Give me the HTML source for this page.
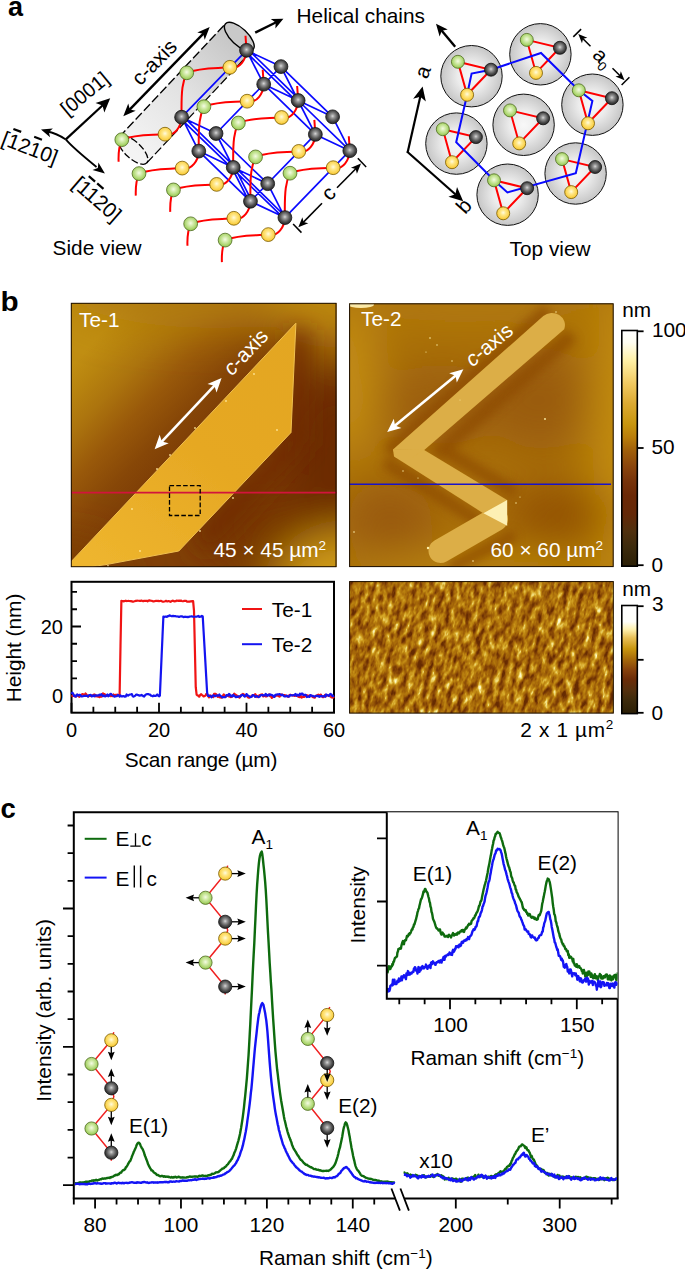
<!DOCTYPE html>
<html><head><meta charset="utf-8"><title>figure</title>
<style>
html,body{margin:0;padding:0;background:#fff;}
svg{display:block}
text{font-family:"Liberation Sans",sans-serif;}
</style></head><body>
<svg width="685" height="1270" viewBox="0 0 685 1270">
<rect width="685" height="1270" fill="#fff"/>

<defs>
<radialGradient id="gGray" cx="0.5" cy="0.45" r="0.55">
 <stop offset="0" stop-color="#d8d8d8"/><stop offset="0.25" stop-color="#9a9a9a"/><stop offset="0.7" stop-color="#4a4a4a"/><stop offset="1" stop-color="#262626"/>
</radialGradient>
<radialGradient id="gYel" cx="0.5" cy="0.45" r="0.55">
 <stop offset="0" stop-color="#fffbe0"/><stop offset="0.35" stop-color="#ffe88a"/><stop offset="0.8" stop-color="#fbd24a"/><stop offset="1" stop-color="#f2c12e"/>
</radialGradient>
<radialGradient id="gGrn" cx="0.5" cy="0.45" r="0.55">
 <stop offset="0" stop-color="#f4fbe4"/><stop offset="0.35" stop-color="#d3ebaa"/><stop offset="0.8" stop-color="#a8d46a"/><stop offset="1" stop-color="#90c24c"/>
</radialGradient>
<radialGradient id="gBig" cx="0.5" cy="0.5" r="0.5">
 <stop offset="0" stop-color="#f8f8f8"/><stop offset="0.45" stop-color="#ececec"/><stop offset="1" stop-color="#c6c6c6"/>
</radialGradient>
</defs>

<text x="8" y="15.5" font-size="27" text-anchor="start" font-weight="bold">a</text>
<defs><linearGradient id="cylG" gradientUnits="userSpaceOnUse" x1="133" y1="150" x2="239.3" y2="36.6">
<stop offset="0" stop-color="#f4f4f4"/><stop offset="0.5" stop-color="#e2e2e2"/><stop offset="1" stop-color="#c4c4c4"/></linearGradient></defs>
<path d="M146.79,162.93 L253.09,49.53 A18.9,8.3 43.15 0 0 225.51,23.67 L119.21,137.07 A18.9,8.3 43.15 0 0 146.79,162.93 Z" fill="url(#cylG)"/>
<ellipse cx="0" cy="0" rx="18.9" ry="8.3" transform="translate(239.3,36.6) rotate(43.15)" fill="#c9c9c9" stroke="#000" stroke-width="1.4"/>
<ellipse cx="0" cy="0" rx="18.9" ry="8.3" transform="translate(133,150) rotate(43.15)" fill="none" stroke="#000" stroke-width="1.3" stroke-dasharray="7,2.5"/>
<line x1="146.79" y1="162.93" x2="253.09" y2="49.53" stroke="#000" stroke-width="1.3" stroke-dasharray="9,3"/>
<line x1="119.21" y1="137.07" x2="225.51" y2="23.67" stroke="#000" stroke-width="1.3" stroke-dasharray="9,3"/>
<path d="M181.6,117.2L216.05,133.5 M216.05,133.5L267.7,183.7 M267.7,183.7L284.9,217.6 M284.9,217.6L250.45,201.3 M250.45,201.3L198.8,151.1 M198.8,151.1L181.6,117.2 M216.05,133.5L233.25,167.4 M267.7,183.7L233.25,167.4 M198.8,151.1L233.25,167.4 M182.75,116.05L234.3,166.35 M180.45,118.35L232.2,168.45 M246.5,50.3L280.95,66.6 M280.95,66.6L332.6,116.8 M332.6,116.8L349.8,150.7 M349.8,150.7L315.35,134.4 M315.35,134.4L263.7,84.2 M263.7,84.2L246.5,50.3 M280.95,66.6L298.15,100.5 M332.6,116.8L298.15,100.5 M349.8,150.7L298.15,100.5 M315.35,134.4L298.15,100.5 M263.7,84.2L298.15,100.5 M247.65,49.15L299.2,99.45 M245.35,51.45L297.1,101.55 M234.25,166.4L285.75,216.75 M232.25,168.4L284.05,218.45 M234.55,166.9L251.65,200.85 M231.95,167.9L249.25,201.75 M181.6,117.2L246.5,50.3 M216.05,133.5L280.95,66.6 M250.45,201.3L315.35,134.4 M284.9,217.6L349.8,150.7" stroke="#0a0aff" stroke-width="1.7" fill="none" stroke-linecap="round"/>
<path d="M181.6,117.2 C181.1,126.2 175,136.7 165,134.2 M165,134.2 C149,135.4 135.8,134.2 121.8,139.7 M121.8,139.7 C118.3,147.7 118.3,153.7 118.6,161.7 M246.5,50.3 C246,59.3 239.9,69.8 229.9,67.3 M229.9,67.3 C213.9,68.5 200.7,67.3 186.7,72.8 M186.7,72.8 C182.7,81.8 181.1,88.8 181.6,117.2 M246.5,50.3 L245.5,35.8 M198.8,151.1 C198.3,160.1 192.2,170.6 182.2,168.1 M182.2,168.1 C166.2,169.3 153,168.1 139,173.6 M139,173.6 C135.5,181.6 135.5,187.6 135.8,195.6 M263.7,84.2 C263.2,93.2 257.1,103.7 247.1,101.2 M247.1,101.2 C231.1,102.4 217.9,101.2 203.9,106.7 M203.9,106.7 C199.9,115.7 198.3,122.7 198.8,151.1 M263.7,84.2 L262.7,69.7 M233.25,167.4 C232.75,176.4 226.65,186.9 216.65,184.4 M216.65,184.4 C200.65,185.6 187.45,184.4 173.45,189.9 M173.45,189.9 C169.95,197.9 169.95,203.9 170.25,211.9 M298.15,100.5 C297.65,109.5 291.55,120 281.55,117.5 M281.55,117.5 C265.55,118.7 252.35,117.5 238.35,123 M238.35,123 C234.35,132 232.75,139 233.25,167.4 M298.15,100.5 L297.15,86 M250.45,201.3 C249.95,210.3 243.85,220.8 233.85,218.3 M233.85,218.3 C217.85,219.5 204.65,218.3 190.65,223.8 M190.65,223.8 C187.15,231.8 187.15,237.8 187.45,245.8 M315.35,134.4 C314.85,143.4 308.75,153.9 298.75,151.4 M298.75,151.4 C282.75,152.6 269.55,151.4 255.55,156.9 M255.55,156.9 C251.55,165.9 249.95,172.9 250.45,201.3 M315.35,134.4 L314.35,119.9 M284.9,217.6 C284.4,226.6 278.3,237.1 268.3,234.6 M268.3,234.6 C252.3,235.8 239.1,234.6 225.1,240.1 M225.1,240.1 C221.6,248.1 221.6,254.1 221.9,262.1 M349.8,150.7 C349.3,159.7 343.2,170.2 333.2,167.7 M333.2,167.7 C317.2,168.9 304,167.7 290,173.2 M290,173.2 C286,182.2 284.4,189.2 284.9,217.6 M349.8,150.7 L348.8,136.2" stroke="#ff0000" stroke-width="2" fill="none"/>
<circle cx="121.8" cy="139.7" r="6.9" fill="url(#gGrn)" stroke="#4f6b22" stroke-width="0.8"/>
<circle cx="165" cy="134.2" r="6.9" fill="url(#gYel)" stroke="#7a5c00" stroke-width="0.8"/>
<circle cx="186.7" cy="72.8" r="6.9" fill="url(#gGrn)" stroke="#4f6b22" stroke-width="0.8"/>
<circle cx="229.9" cy="67.3" r="6.9" fill="url(#gYel)" stroke="#7a5c00" stroke-width="0.8"/>
<circle cx="139" cy="173.6" r="6.9" fill="url(#gGrn)" stroke="#4f6b22" stroke-width="0.8"/>
<circle cx="182.2" cy="168.1" r="6.9" fill="url(#gYel)" stroke="#7a5c00" stroke-width="0.8"/>
<circle cx="203.9" cy="106.7" r="6.9" fill="url(#gGrn)" stroke="#4f6b22" stroke-width="0.8"/>
<circle cx="247.1" cy="101.2" r="6.9" fill="url(#gYel)" stroke="#7a5c00" stroke-width="0.8"/>
<circle cx="173.45" cy="189.9" r="6.9" fill="url(#gGrn)" stroke="#4f6b22" stroke-width="0.8"/>
<circle cx="216.65" cy="184.4" r="6.9" fill="url(#gYel)" stroke="#7a5c00" stroke-width="0.8"/>
<circle cx="238.35" cy="123" r="6.9" fill="url(#gGrn)" stroke="#4f6b22" stroke-width="0.8"/>
<circle cx="281.55" cy="117.5" r="6.9" fill="url(#gYel)" stroke="#7a5c00" stroke-width="0.8"/>
<circle cx="190.65" cy="223.8" r="6.9" fill="url(#gGrn)" stroke="#4f6b22" stroke-width="0.8"/>
<circle cx="233.85" cy="218.3" r="6.9" fill="url(#gYel)" stroke="#7a5c00" stroke-width="0.8"/>
<circle cx="255.55" cy="156.9" r="6.9" fill="url(#gGrn)" stroke="#4f6b22" stroke-width="0.8"/>
<circle cx="298.75" cy="151.4" r="6.9" fill="url(#gYel)" stroke="#7a5c00" stroke-width="0.8"/>
<circle cx="225.1" cy="240.1" r="6.9" fill="url(#gGrn)" stroke="#4f6b22" stroke-width="0.8"/>
<circle cx="268.3" cy="234.6" r="6.9" fill="url(#gYel)" stroke="#7a5c00" stroke-width="0.8"/>
<circle cx="290" cy="173.2" r="6.9" fill="url(#gGrn)" stroke="#4f6b22" stroke-width="0.8"/>
<circle cx="333.2" cy="167.7" r="6.9" fill="url(#gYel)" stroke="#7a5c00" stroke-width="0.8"/>
<circle cx="181.6" cy="117.2" r="6.9" fill="url(#gGray)" stroke="#111" stroke-width="0.8"/>
<circle cx="246.5" cy="50.3" r="6.9" fill="url(#gGray)" stroke="#111" stroke-width="0.8"/>
<circle cx="216.05" cy="133.5" r="6.9" fill="url(#gGray)" stroke="#111" stroke-width="0.8"/>
<circle cx="280.95" cy="66.6" r="6.9" fill="url(#gGray)" stroke="#111" stroke-width="0.8"/>
<circle cx="198.8" cy="151.1" r="6.9" fill="url(#gGray)" stroke="#111" stroke-width="0.8"/>
<circle cx="263.7" cy="84.2" r="6.9" fill="url(#gGray)" stroke="#111" stroke-width="0.8"/>
<circle cx="233.25" cy="167.4" r="6.9" fill="url(#gGray)" stroke="#111" stroke-width="0.8"/>
<circle cx="298.15" cy="100.5" r="6.9" fill="url(#gGray)" stroke="#111" stroke-width="0.8"/>
<circle cx="267.7" cy="183.7" r="6.9" fill="url(#gGray)" stroke="#111" stroke-width="0.8"/>
<circle cx="332.6" cy="116.8" r="6.9" fill="url(#gGray)" stroke="#111" stroke-width="0.8"/>
<circle cx="250.45" cy="201.3" r="6.9" fill="url(#gGray)" stroke="#111" stroke-width="0.8"/>
<circle cx="315.35" cy="134.4" r="6.9" fill="url(#gGray)" stroke="#111" stroke-width="0.8"/>
<circle cx="284.9" cy="217.6" r="6.9" fill="url(#gGray)" stroke="#111" stroke-width="0.8"/>
<circle cx="349.8" cy="150.7" r="6.9" fill="url(#gGray)" stroke="#111" stroke-width="0.8"/>
<polygon points="123.3,116.2 128.27,103.61 129.83,109.47 135.73,110.85" fill="#000"/><line x1="129.39" y1="109.92" x2="203.61" y2="33.38" stroke="#000" stroke-width="2.4"/><polygon points="209.7,27.1 204.73,39.69 203.17,33.83 197.27,32.45" fill="#000"/>
<text x="0" y="0" font-size="20.8" text-anchor="middle" transform="translate(155.3,63.3) rotate(-45.5)" dy="5.5">c-axis</text>
<line x1="255.2" y1="32.6" x2="276.18" y2="22.26" stroke="#000" stroke-width="2.4"/><polygon points="283.4,18.7 275.38,28.45 275.66,22.51 270.79,19.12" fill="#000"/>
<text x="296.6" y="23.4" font-size="20.8" text-anchor="start" >Helical chains</text>
<line x1="65.8" y1="139.4" x2="103.01" y2="104.96" stroke="#000" stroke-width="2.2"/><polygon points="110.2,98.3 104.34,112.58 102.49,105.43 95.51,103.04" fill="#000"/>
<path d="M65.8,139.4 Q56,133 47,131.5" stroke="#000" stroke-width="1.8" fill="none"/>
<polygon points="41,129.4 52.88,128.42 48.85,131.95 50.04,137.17" fill="#000"/>
<path d="M65.8,139.4 Q72,147 96.5,167" stroke="#000" stroke-width="1.8" fill="none"/>
<polygon points="104.9,173.6 92.49,169.99 97.81,168.06 98.4,162.43" fill="#000"/>
<text x="0" y="0" font-size="20" text-anchor="middle" transform="translate(84.6,93.4) rotate(-39.5)" dy="7">[0001]</text>
<g transform="translate(28.8,147.6) rotate(20.8)"><text x="-27.8" y="7" font-size="20.8">[1210]</text><line x1="-21.04" y1="-12" x2="-12.72" y2="-12" stroke="#000" stroke-width="2.2"/><line x1="1.2" y1="-12" x2="9.52" y2="-12" stroke="#000" stroke-width="2.2"/></g>
<g transform="translate(96.8,199) rotate(41)"><text x="-27.8" y="7" font-size="20.8">[1120]</text><line x1="-21.04" y1="-12" x2="-12.72" y2="-12" stroke="#000" stroke-width="2.2"/><line x1="-9.92" y1="-12" x2="-1.6" y2="-12" stroke="#000" stroke-width="2.2"/></g>
<text x="52.6" y="255" font-size="20.8" text-anchor="start" >Side view</text>
<line x1="293.13" y1="223.98" x2="301.47" y2="232.62" stroke="#000" stroke-width="1.5"/>
<line x1="357.83" y1="158.28" x2="366.17" y2="166.92" stroke="#000" stroke-width="1.5"/>
<line x1="322" y1="203.3" x2="303.22" y2="222.32" stroke="#000" stroke-width="1.6"/><polygon points="298.3,227.3 302.34,217.23 303.57,221.96 308.31,223.14" fill="#000"/>
<line x1="337" y1="187.7" x2="356.06" y2="168.56" stroke="#000" stroke-width="1.6"/><polygon points="361,163.6 356.92,173.65 355.71,168.91 350.97,167.72" fill="#000"/>
<text x="0" y="0" font-size="20.8" text-anchor="middle" transform="translate(329.8,194.6) rotate(-45)" dy="5">c</text>
<circle cx="471.5" cy="76.2" r="30.7" fill="url(#gBig)" stroke="#111" stroke-width="1"/>
<circle cx="540.4" cy="54.3" r="30.7" fill="url(#gBig)" stroke="#111" stroke-width="1"/>
<circle cx="592.4" cy="104.7" r="30.7" fill="url(#gBig)" stroke="#111" stroke-width="1"/>
<circle cx="523.6" cy="124.8" r="30.7" fill="url(#gBig)" stroke="#111" stroke-width="1"/>
<circle cx="456.4" cy="143.6" r="30.7" fill="url(#gBig)" stroke="#111" stroke-width="1"/>
<circle cx="507.6" cy="194.7" r="30.7" fill="url(#gBig)" stroke="#111" stroke-width="1"/>
<circle cx="575.6" cy="173.5" r="30.7" fill="url(#gBig)" stroke="#111" stroke-width="1"/>
<path d="M457.9,61.8L491,69.7L467.1,94.8Z M526.8,39.9L559.9,47.8L536,72.9Z M578.8,90.3L611.9,98.2L588,123.3Z M510,110.4L543.1,118.3L519.2,143.4Z M442.8,129.2L475.9,137.1L452,162.2Z M494,180.3L527.1,188.2L503.2,213.3Z M562,159.1L595.1,167L571.2,192.1Z" stroke="#ff0000" stroke-width="2" fill="none"/>
<path d="M491,69.7 L471.6,73.6 L467.1,94.8 L456.2,142.3 L494,180.3 L507.4,192.5 L575.8,173.2 L592.4,101 L578.8,90.3 L541,53 Z" stroke="#0a0aff" stroke-width="2" fill="none" stroke-linejoin="miter"/>
<circle cx="457.9" cy="61.8" r="6.5" fill="url(#gGrn)" stroke="#4f6b22" stroke-width="0.8"/>
<circle cx="467.1" cy="94.8" r="6.5" fill="url(#gYel)" stroke="#7a5c00" stroke-width="0.8"/>
<circle cx="491" cy="69.7" r="6.5" fill="url(#gGray)" stroke="#111" stroke-width="0.8"/>
<circle cx="526.8" cy="39.9" r="6.5" fill="url(#gGrn)" stroke="#4f6b22" stroke-width="0.8"/>
<circle cx="536" cy="72.9" r="6.5" fill="url(#gYel)" stroke="#7a5c00" stroke-width="0.8"/>
<circle cx="559.9" cy="47.8" r="6.5" fill="url(#gGray)" stroke="#111" stroke-width="0.8"/>
<circle cx="578.8" cy="90.3" r="6.5" fill="url(#gGrn)" stroke="#4f6b22" stroke-width="0.8"/>
<circle cx="588" cy="123.3" r="6.5" fill="url(#gYel)" stroke="#7a5c00" stroke-width="0.8"/>
<circle cx="611.9" cy="98.2" r="6.5" fill="url(#gGray)" stroke="#111" stroke-width="0.8"/>
<circle cx="510" cy="110.4" r="6.5" fill="url(#gGrn)" stroke="#4f6b22" stroke-width="0.8"/>
<circle cx="519.2" cy="143.4" r="6.5" fill="url(#gYel)" stroke="#7a5c00" stroke-width="0.8"/>
<circle cx="543.1" cy="118.3" r="6.5" fill="url(#gGray)" stroke="#111" stroke-width="0.8"/>
<circle cx="442.8" cy="129.2" r="6.5" fill="url(#gGrn)" stroke="#4f6b22" stroke-width="0.8"/>
<circle cx="452" cy="162.2" r="6.5" fill="url(#gYel)" stroke="#7a5c00" stroke-width="0.8"/>
<circle cx="475.9" cy="137.1" r="6.5" fill="url(#gGray)" stroke="#111" stroke-width="0.8"/>
<circle cx="494" cy="180.3" r="6.5" fill="url(#gGrn)" stroke="#4f6b22" stroke-width="0.8"/>
<circle cx="503.2" cy="213.3" r="6.5" fill="url(#gYel)" stroke="#7a5c00" stroke-width="0.8"/>
<circle cx="527.1" cy="188.2" r="6.5" fill="url(#gGray)" stroke="#111" stroke-width="0.8"/>
<circle cx="562" cy="159.1" r="6.5" fill="url(#gGrn)" stroke="#4f6b22" stroke-width="0.8"/>
<circle cx="571.2" cy="192.1" r="6.5" fill="url(#gYel)" stroke="#7a5c00" stroke-width="0.8"/>
<circle cx="595.1" cy="167" r="6.5" fill="url(#gGray)" stroke="#111" stroke-width="0.8"/>
<line x1="455.2" y1="46.8" x2="441.38" y2="30.25" stroke="#000" stroke-width="2.4"/><polygon points="436,23.8 447.76,29.62 441.77,30.71 439.62,36.41" fill="#000"/>
<line x1="407.6" y1="152.5" x2="420.43" y2="96.06" stroke="#000" stroke-width="2.2"/><polygon points="422.6,86.5 425.84,101.59 420.27,96.74 413.16,98.71" fill="#000"/>
<line x1="407" y1="151.5" x2="455.86" y2="194.71" stroke="#000" stroke-width="2.2"/><polygon points="463.2,201.2 448.41,196.79 455.33,194.24 457.02,187.06" fill="#000"/>
<text x="0" y="0" font-size="20.8" text-anchor="middle" transform="translate(424.5,72.5) rotate(-70)" dy="5">a</text>
<text x="0" y="0" font-size="20.8" text-anchor="middle" transform="translate(464,206) rotate(-48)" dy="7">b</text>
<line x1="573.31" y1="36.89" x2="581.09" y2="29.11" stroke="#000" stroke-width="1.5"/>
<line x1="621.61" y1="85.09" x2="629.39" y2="77.31" stroke="#000" stroke-width="1.5"/>
<line x1="590.5" y1="46.3" x2="582.75" y2="38.55" stroke="#000" stroke-width="1.5"/><polygon points="578.3,34.1 587.35,37.78 583.07,38.87 581.98,43.15" fill="#000"/>
<line x1="612.5" y1="68.2" x2="620.05" y2="75.75" stroke="#000" stroke-width="1.5"/><polygon points="624.5,80.2 615.45,76.52 619.73,75.43 620.82,71.15" fill="#000"/>
<g transform="translate(601.5,57.3) rotate(45)"><text x="-8" y="6" font-size="20.8">a</text><text x="3.2" y="10.5" font-size="13">0</text></g>
<text x="509.6" y="255.6" font-size="20.8" text-anchor="start" >Top view</text><text transform="translate(0.6,310.6) scale(1.1,1)" font-size="27" font-weight="bold">b</text>
<defs><filter id="blur25" x="-50%" y="-50%" width="200%" height="200%"><feGaussianBlur stdDeviation="22"/></filter><filter id="blur12" x="-50%" y="-50%" width="200%" height="200%"><feGaussianBlur stdDeviation="11"/></filter><filter id="blur5" x="-50%" y="-50%" width="200%" height="200%"><feGaussianBlur stdDeviation="5"/></filter><filter id="blur1" x="-10%" y="-10%" width="120%" height="120%"><feGaussianBlur stdDeviation="0.6"/></filter><clipPath id="clipT1"><rect x="71" y="303" width="265.5" height="264"/></clipPath><clipPath id="clipT2"><rect x="349.3" y="303.5" width="264" height="263.3"/></clipPath><linearGradient id="flake1" gradientUnits="userSpaceOnUse" x1="295" y1="325" x2="90" y2="560"><stop offset="0" stop-color="#e3a624"/><stop offset="0.5" stop-color="#e6a823"/><stop offset="1" stop-color="#eeb52e"/></linearGradient></defs>
<g clip-path="url(#clipT1)">
<defs><linearGradient id="bg1" gradientUnits="userSpaceOnUse" x1="183" y1="442" x2="86" y2="350"><stop offset="0" stop-color="#804006"/><stop offset="0.15" stop-color="#874707"/><stop offset="0.4" stop-color="#99590a"/><stop offset="0.65" stop-color="#ac740e"/><stop offset="0.85" stop-color="#b8840f"/><stop offset="1" stop-color="#c08e12"/></linearGradient></defs>
<rect x="71" y="303" width="266" height="264" fill="url(#bg1)"/>
<g filter="url(#blur25)">
<ellipse cx="215" cy="288" rx="150" ry="40" fill="#b07a0c" opacity="0.95"/>
<ellipse cx="335" cy="300" rx="70" ry="48" fill="#bb860e"/>
<ellipse cx="335" cy="450" rx="55" ry="80" fill="#6c2903"/>
<ellipse cx="255" cy="525" rx="55" ry="40" fill="#763405"/>
<ellipse cx="350" cy="585" rx="75" ry="52" fill="#d09c14"/>
<ellipse cx="60" cy="575" rx="60" ry="30" fill="#7c3c05"/>
</g>
<g filter="url(#blur12)">
<path d="M300,330 L298,440 L200,545" stroke="#6f2c03" stroke-width="22" fill="none" opacity="0.8"/>
</g>
<polygon points="68,565 295.9,323.2 291,432.5 178.8,551 106,564.6 68,570" fill="url(#flake1)" stroke="#f0c050" stroke-width="1" filter="url(#blur1)"/>
<circle cx="157" cy="469" r="0.9" fill="#ffe9a0" opacity="0.9"/>
<circle cx="132" cy="509" r="0.9" fill="#ffe9a0" opacity="0.9"/>
<circle cx="195" cy="428" r="0.9" fill="#ffe9a0" opacity="0.9"/>
<circle cx="254" cy="374" r="0.9" fill="#ffe9a0" opacity="0.9"/>
<circle cx="226" cy="401" r="0.9" fill="#ffe9a0" opacity="0.9"/>
<circle cx="140" cy="551" r="0.9" fill="#ffe9a0" opacity="0.9"/>
<circle cx="108" cy="566" r="0.9" fill="#ffe9a0" opacity="0.9"/>
<circle cx="170" cy="455" r="0.9" fill="#ffe9a0" opacity="0.9"/>
<circle cx="277" cy="430" r="0.9" fill="#ffe9a0" opacity="0.9"/>
<circle cx="233" cy="498" r="0.9" fill="#ffe9a0" opacity="0.9"/>
<circle cx="200" cy="531" r="0.9" fill="#ffe9a0" opacity="0.9"/>
</g>
<line x1="71" y1="492.6" x2="336.6" y2="492.6" stroke="#d2143c" stroke-width="1.6"/>
<rect x="169.5" y="485.7" width="30.7" height="29.8" fill="none" stroke="#000" stroke-width="1.3" stroke-dasharray="4.6,2.2"/>
<rect x="71.3" y="303.3" width="264.7" height="263.4" fill="none" stroke="#1a0d00" stroke-width="1"/>
<polygon points="154.6,449.2 159.68,434.76 161.8,441.55 168.71,443.25" fill="#fff"/><line x1="161.32" y1="442.06" x2="214.88" y2="385.14" stroke="#fff" stroke-width="2.6"/><polygon points="221.6,378 216.52,392.44 214.4,385.65 207.49,383.95" fill="#fff"/>
<g transform="translate(246.8,353) rotate(-46.5)"><text x="0" y="5.5" font-size="20.8" text-anchor="middle" fill="#fff"><tspan font-style="italic">c</tspan>-axis</text></g>
<text x="79" y="327" font-size="20.8" text-anchor="start" fill="#fff" >Te-1</text>
<text x="213.5" y="557" font-size="20.8" fill="#fff">45 × 45 µm<tspan dy="-7.5" font-size="13.5">2</tspan></text>
<g clip-path="url(#clipT2)">
<rect x="349" y="303" width="266" height="265" fill="#a96f0a"/>
<g filter="url(#blur25)">
<ellipse cx="625" cy="440" rx="32" ry="160" fill="#c48e10"/>
<ellipse cx="345" cy="380" rx="30" ry="80" fill="#c48e12"/>
<ellipse cx="470" cy="300" rx="150" ry="22" fill="#b27a0c"/>
<ellipse cx="540" cy="400" rx="50" ry="50" fill="#9a5c08"/>
<ellipse cx="560" cy="515" rx="55" ry="28" fill="#914f06"/>
<ellipse cx="390" cy="520" rx="45" ry="35" fill="#985808"/>
<ellipse cx="440" cy="405" rx="60" ry="40" fill="#9c5e08"/>
<ellipse cx="480" cy="575" rx="140" ry="18" fill="#bb860e"/>
</g>
<g filter="url(#blur5)" opacity="0.7">
<path d="M548,310 L388,452" stroke="#8c4a05" stroke-width="14" fill="none"/>
<path d="M572,335 L436,455" stroke="#8c4a05" stroke-width="14" fill="none"/>
<path d="M440,448 L515,492" stroke="#8c4a05" stroke-width="12" fill="none"/>
<path d="M385,462 L480,522" stroke="#8c4a05" stroke-width="12" fill="none"/>
<path d="M515,535 L450,568" stroke="#8c4a05" stroke-width="12" fill="none"/>
</g>
<g filter="url(#blur1)">
<path d="M393,449.6 L543.3,316 A13,12.2 0 0 1 564.2,329.2 L424,450.2 Z" fill="#dcae46"/>
<polygon points="393,449.6 423.8,449.8 507,500 507,525.4 483.6,513.4 394,456.5" fill="#dcae46"/>
<path d="M496,519 L440.5,551" stroke="#dcae46" stroke-width="24" stroke-linecap="round" fill="none"/>
<polygon points="393,449.2 424,449.6 412,458 396,458" fill="#dcae46"/>
<polygon points="483.4,513.2 507.2,500 507.2,525.8" fill="#fdf0b4"/>
</g>
<ellipse cx="361" cy="304.5" rx="13" ry="3.6" fill="#fbe9a6" filter="url(#blur1)"/>
<circle cx="430" cy="338" r="0.8" fill="#fff0a8"/>
<circle cx="437" cy="345" r="0.7" fill="#fff0a8"/>
<circle cx="452" cy="361" r="0.7" fill="#fff0a8"/>
<circle cx="426" cy="352" r="0.6" fill="#fff0a8"/>
<circle cx="545" cy="419" r="0.9" fill="#fff0a8"/>
<circle cx="354" cy="532" r="0.8" fill="#fff0a8"/>
<circle cx="428" cy="548" r="1.2" fill="#fff0a8"/>
<circle cx="497" cy="509" r="0.7" fill="#fff0a8"/>
<circle cx="500" cy="514" r="0.7" fill="#fff0a8"/>
<circle cx="516" cy="503" r="0.7" fill="#fff0a8"/>
<circle cx="520" cy="497" r="0.6" fill="#fff0a8"/>
<circle cx="403" cy="471" r="0.7" fill="#fff0a8"/>
<circle cx="418" cy="478" r="0.6" fill="#fff0a8"/>
<circle cx="473" cy="561" r="0.8" fill="#fff0a8"/>
<circle cx="556" cy="312" r="0.7" fill="#fff0a8"/>
<circle cx="460" cy="400" r="0.5" fill="#fff0a8"/>
</g>
<line x1="349.5" y1="484.3" x2="611" y2="484.3" stroke="#1a12c8" stroke-width="1.4"/>
<rect x="349.6" y="303.8" width="263.6" height="262.8" fill="none" stroke="#1a0d00" stroke-width="1"/>
<polygon points="387.2,432 393.81,418.79 395.02,425.57 401.44,428.06" fill="#fff"/><line x1="394.5" y1="426" x2="456.1" y2="375.3" stroke="#fff" stroke-width="2.6"/><polygon points="463.4,369.3 456.79,382.51 455.58,375.73 449.16,373.24" fill="#fff"/>
<g transform="translate(490,346) rotate(-39.5)"><text x="0" y="5.5" font-size="20.8" text-anchor="middle" fill="#fff"><tspan font-style="italic">c</tspan>-axis</text></g>
<text x="361" y="326.3" font-size="20.8" text-anchor="start" fill="#fff" >Te-2</text>
<text x="490.5" y="557" font-size="20.8" fill="#fff">60 × 60 µm<tspan dy="-7.5" font-size="13.5">2</tspan></text>
<defs><linearGradient id="cb1" x1="0" y1="0" x2="0" y2="1"><stop offset="0" stop-color="#ffffff"/><stop offset="0.05" stop-color="#fffef2"/><stop offset="0.13" stop-color="#fff0a4"/><stop offset="0.227" stop-color="#f0c85f"/><stop offset="0.31" stop-color="#dcaa32"/><stop offset="0.397" stop-color="#c8960f"/><stop offset="0.454" stop-color="#b97d0a"/><stop offset="0.51" stop-color="#a05f0a"/><stop offset="0.58" stop-color="#8a440c"/><stop offset="0.64" stop-color="#77330a"/><stop offset="0.7" stop-color="#6b2806"/><stop offset="0.78" stop-color="#642808"/><stop offset="0.85" stop-color="#50300e"/><stop offset="0.92" stop-color="#3c2a0c"/><stop offset="1" stop-color="#2b1f06"/></linearGradient></defs><rect x="621.8" y="330.5" width="15.5" height="235.7" fill="url(#cb1)" stroke="#000" stroke-width="1.6"/>
<line x1="637" y1="331.3" x2="643.6" y2="331.3" stroke="#000" stroke-width="1.8"/>
<line x1="637" y1="448" x2="643.6" y2="448" stroke="#000" stroke-width="1.8"/>
<line x1="637" y1="565.2" x2="643.6" y2="565.2" stroke="#000" stroke-width="1.8"/>
<text x="622.3" y="316.8" font-size="20.8" text-anchor="start" >nm</text>
<text x="651.9" y="337.2" font-size="20.8" text-anchor="start" >100</text>
<text x="651.5" y="454.3" font-size="20.8" text-anchor="start" >50</text>
<text x="651.5" y="572" font-size="20.8" text-anchor="start" >0</text>
<rect x="71.5" y="581.8" width="262.5" height="130.9" fill="none" stroke="#000" stroke-width="2"/>
<path d="M71.5,695.6h9.5 M71.5,678.33h5.5 M71.5,661.05h5.5 M71.5,643.77h5.5 M71.5,626.5h9.5 M71.5,609.23h5.5 M71.5,591.95h5.5 M71.5,712.7v-10 M93.38,712.7v-6 M115.25,712.7v-6 M137.12,712.7v-6 M159,712.7v-10 M180.88,712.7v-6 M202.75,712.7v-6 M224.62,712.7v-6 M246.5,712.7v-10 M268.38,712.7v-6 M290.25,712.7v-6 M312.12,712.7v-6 M334,712.7v-10" stroke="#000" stroke-width="1.8" fill="none"/>
<path d="M71.5,696.53 L72.38,695.87 L73.25,695.01 L74.12,695.63 L75,696.63 L75.88,696.27 L76.75,695.64 L77.62,694.79 L78.5,696.04 L79.38,696.84 L80.25,695.81 L81.12,695.37 L82,694.29 L82.88,694.07 L83.75,694.76 L84.62,695.3 L85.5,693.47 L86.38,694.54 L87.25,695.56 L88.12,696.44 L89,696.03 L89.88,695.75 L90.75,695.95 L91.62,695.86 L92.5,695.55 L93.38,695.04 L94.25,694.43 L95.12,694.74 L96,696.44 L96.88,695.57 L97.75,696.66 L98.62,696.37 L99.5,697.18 L100.38,696.55 L101.25,696.76 L102.12,696.13 L103,693.41 L103.88,694.32 L104.75,694.19 L105.62,695.76 L106.5,695.92 L107.38,695.29 L108.25,695.48 L109.12,695.25 L110,695.31 L110.88,696.19 L111.75,695.53 L112.62,696.17 L113.5,694.52 L114.38,695.34 L115.25,694.92 L116.12,695.19 L117,694.63 L117.88,695.48 L118.75,694.77 L119.62,695.6 L120.5,645.96 L121.38,600.86 L122.25,600.99 L123.12,601.31 L124,601.09 L124.88,601.04 L125.75,600.7 L126.62,601.03 L127.5,600.98 L128.38,600.97 L129.25,601.02 L130.12,601.07 L131,601.1 L131.88,601.33 L132.75,601.58 L133.62,601.57 L134.5,601.29 L135.38,600.89 L136.25,600.78 L137.12,600.7 L138,600.73 L138.88,600.76 L139.75,600.92 L140.62,600.86 L141.5,600.55 L142.38,600.93 L143.25,601.25 L144.12,600.74 L145,600.89 L145.88,600.79 L146.75,600.75 L147.62,601.26 L148.5,600.62 L149.38,600.41 L150.25,600.71 L151.12,600.74 L152,600.92 L152.88,601.3 L153.75,601.32 L154.62,601.2 L155.5,600.94 L156.38,600.88 L157.25,601.03 L158.12,600.77 L159,601.17 L159.88,601 L160.75,600.82 L161.62,601.08 L162.5,601.64 L163.38,601.73 L164.25,601.49 L165.12,601.26 L166,600.86 L166.88,601.29 L167.75,601.29 L168.62,601.11 L169.5,601.22 L170.38,601.87 L171.25,601.42 L172.12,600.75 L173,600.69 L173.88,601.17 L174.75,601.32 L175.62,601.25 L176.5,600.6 L177.38,600.71 L178.25,600.9 L179.12,600.64 L180,600.92 L180.88,600.57 L181.75,601.03 L182.62,601.26 L183.5,601.07 L184.38,600.78 L185.25,600.8 L186.12,600.91 L187,601.54 L187.88,601.63 L188.75,601.65 L189.62,601.64 L190.5,601.34 L191.38,601.41 L192.25,601.15 L193.12,601.18 L194,610.83 L194.88,649.01 L195.75,687.2 L196.62,694.74 L197.5,695.45 L198.38,695.68 L199.25,696.69 L200.12,695.03 L201,694.16 L201.88,694.87 L202.75,695.53 L203.62,696.49 L204.5,696.01 L205.38,695.69 L206.25,693.99 L207.12,694.45 L208,695.5 L208.88,697.4 L209.75,695.61 L210.62,695.46 L211.5,696.74 L212.38,696.15 L213.25,697.15 L214.12,693.88 L215,693.72 L215.88,694.04 L216.75,694.8 L217.62,696.74 L218.5,696.38 L219.38,697.25 L220.25,696.14 L221.12,697.55 L222,697.46 L222.88,695.79 L223.75,694.46 L224.62,695.82 L225.5,696.9 L226.38,695.71 L227.25,695.02 L228.12,696 L229,696.37 L229.88,696.59 L230.75,697.1 L231.62,697.02 L232.5,695.5 L233.38,695.01 L234.25,693.69 L235.12,694.52 L236,695.05 L236.88,696.02 L237.75,695.95 L238.62,696.81 L239.5,697.67 L240.38,696.31 L241.25,694.93 L242.12,694.56 L243,693.97 L243.88,694.43 L244.75,695.44 L245.62,695.44 L246.5,695.79 L247.38,696.56 L248.25,697.46 L249.12,697.84 L250,696.95 L250.88,696.3 L251.75,696.38 L252.62,694.98 L253.5,695.09 L254.38,694.85 L255.25,694.23 L256.12,695.4 L257,696.98 L257.88,695.85 L258.75,696.28 L259.62,695.01 L260.5,694.99 L261.38,694.47 L262.25,694.34 L263.12,696.43 L264,695.55 L264.88,696.08 L265.75,696.46 L266.62,696.45 L267.5,695.53 L268.38,694.88 L269.25,694.4 L270.12,696.14 L271,696.37 L271.88,697.87 L272.75,697.04 L273.62,696.01 L274.5,696.43 L275.38,695.91 L276.25,695.61 L277.12,694.84 L278,695.77 L278.88,696.33 L279.75,696.62 L280.62,694.88 L281.5,694.34 L282.38,694.94 L283.25,695.03 L284.12,695.17 L285,695.19 L285.88,695.51 L286.75,695.8 L287.62,696.68 L288.5,696.73 L289.38,695.03 L290.25,694.85 L291.12,695.1 L292,695.46 L292.88,695.47 L293.75,695.25 L294.62,695.88 L295.5,695.62 L296.38,695.43 L297.25,696.07 L298.12,696.48 L299,696.89 L299.88,697.18 L300.75,695.87 L301.62,697.56 L302.5,696.98 L303.38,696.89 L304.25,696.85 L305.12,696.27 L306,695.15 L306.88,695.27 L307.75,695.51 L308.62,696.01 L309.5,695.94 L310.38,695.11 L311.25,695.61 L312.12,696.48 L313,697.09 L313.88,697.33 L314.75,697.7 L315.62,696.02 L316.5,695.58 L317.38,695.77 L318.25,694.59 L319.12,695.5 L320,694.97 L320.88,694.61 L321.75,696.18 L322.62,697.13 L323.5,697.22 L324.38,695.89 L325.25,694.79 L326.12,696.04 L327,695.07 L327.88,695.57 L328.75,695.88 L329.62,696.19 L330.5,696.2 L331.38,697.34 L332.25,697.41 L333.12,697.62 L334,696.44" stroke="#f01414" stroke-width="2.2" fill="none" stroke-linejoin="round"/>
<path d="M71.5,694.01 L72.38,692.57 L73.25,694.04 L74.12,695.97 L75,696.13 L75.88,696.63 L76.75,694.71 L77.62,694.63 L78.5,695.57 L79.38,694.87 L80.25,694.76 L81.12,696.33 L82,696.44 L82.88,696.29 L83.75,696 L84.62,695.74 L85.5,695.94 L86.38,695.66 L87.25,696.08 L88.12,696.57 L89,695.03 L89.88,694.98 L90.75,694.9 L91.62,696.39 L92.5,696.2 L93.38,695.34 L94.25,696.42 L95.12,695.26 L96,695.69 L96.88,695.35 L97.75,695.55 L98.62,695.4 L99.5,694.57 L100.38,695.29 L101.25,694.22 L102.12,695.37 L103,696.17 L103.88,695.4 L104.75,696.29 L105.62,696.3 L106.5,695.33 L107.38,694.52 L108.25,696.3 L109.12,695.63 L110,694.19 L110.88,693.85 L111.75,694.73 L112.62,695.53 L113.5,695.79 L114.38,696.59 L115.25,696.39 L116.12,696.22 L117,696.08 L117.88,694.99 L118.75,695.41 L119.62,696.59 L120.5,695.4 L121.38,696.29 L122.25,696.36 L123.12,696.16 L124,696.19 L124.88,696.72 L125.75,696.46 L126.62,694.46 L127.5,695.38 L128.38,695.57 L129.25,694.73 L130.12,694.51 L131,694.37 L131.88,694.2 L132.75,696.26 L133.62,696.65 L134.5,696.13 L135.38,695.54 L136.25,694.58 L137.12,694.63 L138,695.2 L138.88,695.33 L139.75,695.6 L140.62,695.41 L141.5,694.97 L142.38,695.48 L143.25,696.15 L144.12,696.58 L145,695.35 L145.88,694.48 L146.75,694.17 L147.62,694.09 L148.5,694.06 L149.38,694.68 L150.25,694.54 L151.12,695.77 L152,695.85 L152.88,696.31 L153.75,695.47 L154.62,695.96 L155.5,695.9 L156.38,695.48 L157.25,694.5 L158.12,695.54 L159,696.28 L159.88,695.6 L160.75,675.82 L161.62,656.04 L162.5,636.26 L163.38,616.61 L164.25,617.04 L165.12,616.63 L166,616.7 L166.88,616.85 L167.75,616.15 L168.62,616.09 L169.5,615.31 L170.38,615.67 L171.25,616.09 L172.12,616.22 L173,615.89 L173.88,616.14 L174.75,616.15 L175.62,616.15 L176.5,616.52 L177.38,616.47 L178.25,616.61 L179.12,616.89 L180,616.49 L180.88,616.31 L181.75,616.36 L182.62,616.65 L183.5,617.12 L184.38,616.73 L185.25,616.66 L186.12,617.03 L187,616.83 L187.88,617.09 L188.75,616.86 L189.62,616.67 L190.5,616.5 L191.38,616.43 L192.25,616.41 L193.12,616.74 L194,616.74 L194.88,616.77 L195.75,616.72 L196.62,616.55 L197.5,616.36 L198.38,615.97 L199.25,616.86 L200.12,616.6 L201,616.61 L201.88,615.95 L202.75,616.48 L203.62,631.7 L204.5,646.91 L205.38,662.13 L206.25,677.34 L207.12,692.56 L208,695.95 L208.88,695.91 L209.75,695.86 L210.62,696.2 L211.5,697.36 L212.38,696.3 L213.25,695.26 L214.12,695.45 L215,696.28 L215.88,695.86 L216.75,695.32 L217.62,695.57 L218.5,695.59 L219.38,694.52 L220.25,695.8 L221.12,696.15 L222,697.38 L222.88,697.2 L223.75,697.12 L224.62,697.24 L225.5,697.11 L226.38,695.14 L227.25,695.47 L228.12,695.61 L229,693.94 L229.88,694.65 L230.75,696.35 L231.62,695.74 L232.5,696.4 L233.38,694.83 L234.25,696.09 L235.12,696.33 L236,697.26 L236.88,696.52 L237.75,696.93 L238.62,696.44 L239.5,696.39 L240.38,696.54 L241.25,695.45 L242.12,694.8 L243,695.07 L243.88,695.97 L244.75,696.63 L245.62,696.02 L246.5,694.03 L247.38,695.01 L248.25,695.84 L249.12,696.27 L250,696.84 L250.88,697.08 L251.75,696.64 L252.62,695.14 L253.5,695.32 L254.38,695.82 L255.25,696.96 L256.12,696.25 L257,696.01 L257.88,696.78 L258.75,697.13 L259.62,696.55 L260.5,695.4 L261.38,695 L262.25,695.09 L263.12,695.54 L264,695.32 L264.88,695.44 L265.75,693.85 L266.62,695.41 L267.5,695.77 L268.38,694.74 L269.25,695.28 L270.12,694.33 L271,694.87 L271.88,695.05 L272.75,695.55 L273.62,696.62 L274.5,696.95 L275.38,694.73 L276.25,694.59 L277.12,694.53 L278,694.23 L278.88,694.35 L279.75,694.07 L280.62,694.89 L281.5,695.34 L282.38,694.7 L283.25,695.33 L284.12,696.45 L285,696.28 L285.88,696.42 L286.75,695.63 L287.62,696.16 L288.5,696.74 L289.38,696.54 L290.25,694.98 L291.12,695.27 L292,695.28 L292.88,695.4 L293.75,695.26 L294.62,694.69 L295.5,693.99 L296.38,695.88 L297.25,694.74 L298.12,695.08 L299,695.53 L299.88,693.74 L300.75,694.61 L301.62,693.53 L302.5,693.62 L303.38,695.2 L304.25,694.99 L305.12,694.67 L306,695.14 L306.88,697.09 L307.75,696.76 L308.62,696.44 L309.5,696.95 L310.38,695.02 L311.25,695.44 L312.12,695.8 L313,695.95 L313.88,696.4 L314.75,696.67 L315.62,696.17 L316.5,695.71 L317.38,696.05 L318.25,695.94 L319.12,696.86 L320,695.96 L320.88,696.39 L321.75,695.91 L322.62,696.47 L323.5,696.52 L324.38,695.99 L325.25,696.75 L326.12,694.41 L327,694.92 L327.88,695.25 L328.75,695.95 L329.62,694.6 L330.5,693.94 L331.38,694.38 L332.25,695.91 L333.12,696.17 L334,695.47" stroke="#1414f0" stroke-width="2.2" fill="none" stroke-linejoin="round"/>
<text x="63" y="702.8" font-size="20" text-anchor="end" >0</text>
<text x="63" y="633.7" font-size="20" text-anchor="end" >20</text>
<text x="71.5" y="737.4" font-size="20" text-anchor="middle" >0</text>
<text x="159" y="737.4" font-size="20" text-anchor="middle" >20</text>
<text x="246.5" y="737.4" font-size="20" text-anchor="middle" >40</text>
<text x="334" y="737.4" font-size="20" text-anchor="middle" >60</text>
<text x="0" y="0" font-size="20.8" text-anchor="middle" transform="translate(20.6,648) rotate(-90)" >Height (nm)</text>
<text x="201.1" y="766.5" font-size="20.8" text-anchor="middle" textLength="152.5">Scan range (µm)</text>
<line x1="242" y1="609" x2="262" y2="609" stroke="#f01414" stroke-width="2"/>
<line x1="242" y1="644.2" x2="262" y2="644.2" stroke="#1414f0" stroke-width="2"/>
<text x="271.8" y="616.5" font-size="20.8" text-anchor="start" >Te-1</text>
<text x="271.8" y="651.6" font-size="20.8" text-anchor="start" >Te-2</text>
<defs><filter id="rough" x="0" y="0" width="100%" height="100%" color-interpolation-filters="sRGB">
<feTurbulence type="fractalNoise" baseFrequency="0.085 0.19" numOctaves="3" seed="7" result="n"/>
<feColorMatrix in="n" type="matrix" values="0 0 0 0 0  0 0 0 0 0  0 0 0 0 0  2.6 0 0 0 -0.8" result="a"/>
<feColorMatrix in="n" type="matrix" values="1.65 0 0 0 -0.405  1.65 0 0 0 -0.405  1.65 0 0 0 -0.405  0 0 0 0 1" result="m"/>
<feComponentTransfer in="m"><feFuncR type="table" tableValues="0.4 0.5 0.59 0.67 0.75 0.84 0.94 1.0"/><feFuncG type="table" tableValues="0.17 0.25 0.34 0.43 0.53 0.66 0.86 0.98"/><feFuncB type="table" tableValues="0.01 0.02 0.03 0.04 0.07 0.16 0.47 0.8"/></feComponentTransfer>
</filter><clipPath id="clipR"><rect x="349.3" y="581.3" width="264.3" height="132"/></clipPath></defs>
<g clip-path="url(#clipR)"><g transform="translate(481,647) rotate(-77)"><rect x="-170" y="-170" width="340" height="340" filter="url(#rough)"/></g></g>
<rect x="349.6" y="581.6" width="263.7" height="131.5" fill="none" stroke="#1a0d00" stroke-width="1"/>
<defs><linearGradient id="cb2" x1="0" y1="0" x2="0" y2="1"><stop offset="0" stop-color="#ffffff"/><stop offset="0.15" stop-color="#fffffa"/><stop offset="0.22" stop-color="#fff2b0"/><stop offset="0.3" stop-color="#e8bf55"/><stop offset="0.4" stop-color="#c8960f"/><stop offset="0.5" stop-color="#a5680a"/><stop offset="0.6" stop-color="#85400c"/><stop offset="0.68" stop-color="#6c2c08"/><stop offset="0.78" stop-color="#55300e"/><stop offset="0.88" stop-color="#3c2a0c"/><stop offset="1" stop-color="#2b1f06"/></linearGradient></defs><rect x="621.8" y="605.5" width="15.5" height="108.1" fill="url(#cb2)" stroke="#000" stroke-width="1.6"/>
<line x1="637" y1="606.2" x2="643.6" y2="606.2" stroke="#000" stroke-width="1.8"/>
<line x1="637" y1="659.8" x2="643.6" y2="659.8" stroke="#000" stroke-width="1.8"/>
<line x1="637" y1="712.8" x2="643.6" y2="712.8" stroke="#000" stroke-width="1.8"/>
<text x="622.3" y="596" font-size="20.8" text-anchor="start" >nm</text>
<text x="652" y="611" font-size="20.8" text-anchor="start" >3</text>
<text x="651.5" y="720" font-size="20.8" text-anchor="start" >0</text>
<text x="520.2" y="736.6" font-size="20.8" textLength="93">2 x 1 µm<tspan dy="-7.5" font-size="13.5">2</tspan></text><text x="0.5" y="817.5" font-size="27.5" text-anchor="start" font-weight="bold">c</text>
<path d="M73.8,1198.6 V812.3 H617.6 V1198.6" fill="none" stroke="#000" stroke-width="2"/>
<path d="M72.8,1198.6 H395.5 M404.5,1198.6 H618.6" fill="none" stroke="#000" stroke-width="2"/>
<path d="M391.4,1188.5 L399.9,1210.6 M400.4,1188.5 L408.9,1210.6" stroke="#000" stroke-width="1.8" fill="none"/>
<path d="M73.8,1185.2h-10.8 M73.8,1157.53h-6.2 M73.8,1129.86h-6.2 M73.8,1102.19h-6.2 M73.8,1074.52h-6.2 M73.8,1046.85h-10.8 M73.8,1019.18h-6.2 M73.8,991.51h-6.2 M73.8,963.84h-6.2 M73.8,936.17h-6.2 M73.8,908.5h-10.8 M73.8,880.83h-6.2 M73.8,853.16h-6.2 M73.8,825.49h-6.2 M95.07,1198.6v9.8 M116.55,1198.6v6.0 M138.02,1198.6v6.0 M159.5,1198.6v6.0 M180.97,1198.6v9.8 M202.45,1198.6v6.0 M223.92,1198.6v6.0 M245.4,1198.6v6.0 M266.88,1198.6v9.8 M288.35,1198.6v6.0 M309.82,1198.6v6.0 M331.3,1198.6v6.0 M352.77,1198.6v9.8 M374.25,1198.6v6.0 M455.8,1198.6v9.8 M507.75,1198.6v6.0 M559.7,1198.6v9.8 M611.65,1198.6v6.0 M73.8,1198.6v6" stroke="#000" stroke-width="1.8" fill="none"/>
<text x="95.07" y="1231.7" font-size="20.8" text-anchor="middle" >80</text>
<text x="180.97" y="1231.7" font-size="20.8" text-anchor="middle" >100</text>
<text x="266.88" y="1231.7" font-size="20.8" text-anchor="middle" >120</text>
<text x="352.77" y="1231.7" font-size="20.8" text-anchor="middle" >140</text>
<text x="455.8" y="1231.7" font-size="20.8" text-anchor="middle" >200</text>
<text x="559.7" y="1231.7" font-size="20.8" text-anchor="middle" >300</text>
<text x="345.8" y="1265" font-size="20.8" text-anchor="middle">Raman shift (cm<tspan dy="-7.5" font-size="13.5">−1</tspan><tspan dy="7.5">)</tspan></text>
<text x="0" y="0" font-size="20.8" text-anchor="middle" transform="translate(51,1010.5) rotate(-90)" >Intensity (arb. units)</text>
<clipPath id="clipC2"><rect x="403" y="1100" width="214" height="97"/></clipPath>
<path d="M74.9,1183.4 L75.47,1183.5 L76.04,1183.11 L76.61,1183.55 L77.19,1183.28 L77.76,1183.6 L78.33,1182.98 L78.9,1182.81 L79.47,1182.44 L80.04,1182.63 L80.61,1182.5 L81.18,1182.56 L81.76,1182.67 L82.33,1182.5 L82.9,1182.7 L83.47,1182.57 L84.04,1182.23 L84.61,1182.15 L85.18,1182.19 L85.75,1181.58 L86.33,1181.7 L86.9,1181.87 L87.47,1181.76 L88.04,1181.82 L88.61,1181.78 L89.18,1181.71 L89.75,1181.08 L90.33,1181.15 L90.9,1181.11 L91.47,1180.93 L92.04,1180.47 L92.61,1180.69 L93.18,1180.86 L93.75,1180.18 L94.32,1180.67 L94.9,1180.64 L95.47,1180.32 L96.04,1179.73 L96.61,1180.09 L97.18,1180.59 L97.75,1180.09 L98.32,1180.03 L98.89,1179.92 L99.47,1179.6 L100.04,1179.43 L100.61,1179.27 L101.18,1179.3 L101.75,1178.86 L102.32,1178.51 L102.89,1178.62 L103.46,1178.74 L104.04,1178.48 L104.61,1178.35 L105.18,1178.59 L105.75,1178.53 L106.32,1178.09 L106.89,1178.07 L107.46,1178.06 L108.04,1177.87 L108.61,1177.77 L109.18,1177.65 L109.75,1177.98 L110.32,1177.22 L110.89,1177.11 L111.46,1177.23 L112.03,1176.79 L112.61,1176.62 L113.18,1176.52 L113.75,1176.12 L114.32,1175.52 L114.89,1175.5 L115.46,1175.13 L116.03,1174.67 L116.6,1175.04 L117.18,1174.99 L117.75,1174.49 L118.32,1174.66 L118.89,1174.23 L119.46,1173.43 L120.03,1172.85 L120.6,1172.44 L121.17,1172.6 L121.75,1171.42 L122.32,1170.98 L122.89,1170.42 L123.46,1169.93 L124.03,1169.93 L124.6,1169.56 L125.17,1168.97 L125.75,1167.51 L126.32,1167.01 L126.89,1166.18 L127.46,1165.3 L128.03,1164.16 L128.6,1163.07 L129.17,1162.04 L129.74,1161.36 L130.32,1160.96 L130.89,1159.33 L131.46,1157.86 L132.03,1156.15 L132.6,1154.86 L133.17,1153.56 L133.74,1151.85 L134.31,1150.78 L134.89,1149.46 L135.46,1148.25 L136.03,1146.87 L136.6,1145.14 L137.17,1144.13 L137.74,1143.17 L138.31,1142.79 L138.88,1142.71 L139.46,1143.27 L140.03,1144.05 L140.6,1145.68 L141.17,1146.8 L141.74,1147.98 L142.31,1148.56 L142.88,1149.73 L143.46,1151.1 L144.03,1152.59 L144.6,1154.72 L145.17,1156.26 L145.74,1157.53 L146.31,1159.3 L146.88,1160.56 L147.45,1162.19 L148.03,1164.02 L148.6,1165.1 L149.17,1166.43 L149.74,1167.36 L150.31,1168.4 L150.88,1169.12 L151.45,1170.42 L152.02,1170.33 L152.6,1170.68 L153.17,1171.53 L153.74,1172.35 L154.31,1172.78 L154.88,1173.05 L155.45,1173.43 L156.02,1173.8 L156.59,1174.71 L157.17,1175.14 L157.74,1174.88 L158.31,1175.09 L158.88,1175.71 L159.45,1175.94 L160.02,1176.26 L160.59,1176.38 L161.17,1175.98 L161.74,1176.13 L162.31,1175.94 L162.88,1176.1 L163.45,1176.63 L164.02,1176.76 L164.59,1176.15 L165.16,1176.58 L165.74,1176.91 L166.31,1176.56 L166.88,1176.67 L167.45,1176.77 L168.02,1176.48 L168.59,1177.12 L169.16,1176.95 L169.73,1177.23 L170.31,1177.49 L170.88,1177.5 L171.45,1177.04 L172.02,1177.11 L172.59,1177.57 L173.16,1177.66 L173.73,1177.08 L174.3,1176.89 L174.88,1177.31 L175.45,1176.69 L176.02,1177.04 L176.59,1177.43 L177.16,1177.39 L177.73,1177.11 L178.3,1176.79 L178.88,1176.76 L179.45,1177.09 L180.02,1177.3 L180.59,1177.62 L181.16,1177.46 L181.73,1177.49 L182.3,1177.3 L182.87,1177.54 L183.45,1177.49 L184.02,1177.54 L184.59,1177.63 L185.16,1177.66 L185.73,1177.63 L186.3,1177.63 L186.87,1177.2 L187.44,1177.06 L188.02,1177.31 L188.59,1176.99 L189.16,1176.86 L189.73,1176.48 L190.3,1176.67 L190.87,1176.76 L191.44,1176.91 L192.01,1176.78 L192.59,1176.61 L193.16,1176.58 L193.73,1176.65 L194.3,1176.48 L194.87,1176.49 L195.44,1176.44 L196.01,1176.68 L196.59,1176.52 L197.16,1176.71 L197.73,1176.76 L198.3,1176.53 L198.87,1175.9 L199.44,1175.81 L200.01,1175.98 L200.58,1176.1 L201.16,1175.85 L201.73,1175.6 L202.3,1175.47 L202.87,1175.72 L203.44,1175.74 L204.01,1175.84 L204.58,1175.85 L205.15,1175.95 L205.73,1175.81 L206.3,1176.16 L206.87,1176.06 L207.44,1175.55 L208.01,1175.54 L208.58,1175.11 L209.15,1175.26 L209.72,1175.05 L210.3,1174.67 L210.87,1174.74 L211.44,1174.63 L212.01,1173.7 L212.58,1173.89 L213.15,1173.92 L213.72,1173.81 L214.3,1173.5 L214.87,1173.24 L215.44,1172.73 L216.01,1172.38 L216.58,1172.37 L217.15,1172.22 L217.72,1172.27 L218.29,1172.18 L218.87,1171.8 L219.44,1171.07 L220.01,1170.66 L220.58,1170.1 L221.15,1169.59 L221.72,1169.42 L222.29,1168.57 L222.86,1168.58 L223.44,1168.41 L224.01,1168.06 L224.58,1167.25 L225.15,1166.9 L225.72,1166.62 L226.29,1165.91 L226.86,1165.06 L227.43,1164.63 L228.01,1164.13 L228.58,1163.18 L229.15,1162.34 L229.72,1161.52 L230.29,1161.14 L230.86,1160.22 L231.43,1159.24 L232.01,1158.79 L232.58,1157.19 L233.15,1156.03 L233.72,1154.9 L234.29,1152.88 L234.86,1151.65 L235.43,1150.46 L236,1148.81 L236.58,1146.85 L237.15,1144.78 L237.72,1142.9 L238.29,1141.06 L238.86,1138.88 L239.43,1136.54 L240,1134 L240.57,1130.83 L241.15,1127.63 L241.72,1123.97 L242.29,1120.38 L242.86,1116.4 L243.43,1111.82 L244,1107.04 L244.57,1101.4 L245.14,1096.4 L245.72,1090.47 L246.29,1084.36 L246.86,1078.39 L247.43,1070.7 L248,1062.72 L248.57,1055 L249.14,1044.98 L249.72,1034.38 L250.29,1024.16 L250.86,1011.95 L251.43,1000.44 L252,989.21 L252.57,976.58 L253.14,964.75 L253.71,953.73 L254.29,943.34 L254.86,930.66 L255.43,918.72 L256,906.01 L256.57,894.48 L257.14,884.93 L257.71,877.05 L258.28,869.64 L258.86,863.46 L259.43,858.75 L260,855.54 L260.57,853.6 L261.14,852.39 L261.71,851.56 L262.28,854.1 L262.85,858.54 L263.43,864.37 L264,869.32 L264.57,875.43 L265.14,881.59 L265.71,889.39 L266.28,898.71 L266.85,909.8 L267.43,921.45 L268,932.49 L268.57,942.25 L269.14,952.63 L269.71,963.42 L270.28,972.05 L270.85,981.83 L271.42,989.7 L272,1000.19 L272.57,1009.66 L273.14,1018.71 L273.71,1026.94 L274.28,1035.3 L274.85,1043.49 L275.42,1051.17 L275.99,1057.41 L276.57,1063.64 L277.14,1069.52 L277.71,1073.92 L278.28,1078.94 L278.85,1083.48 L279.42,1088.4 L279.99,1092.54 L280.56,1096.67 L281.14,1100.52 L281.71,1103.79 L282.28,1107.06 L282.85,1110.31 L283.42,1113.43 L283.99,1116.89 L284.56,1119.69 L285.14,1121.95 L285.71,1124.47 L286.28,1126.97 L286.85,1128.9 L287.42,1131.25 L287.99,1133.28 L288.56,1134.72 L289.13,1136.64 L289.71,1137.89 L290.28,1139.54 L290.85,1141.03 L291.42,1142.39 L291.99,1144.7 L292.56,1145.93 L293.13,1147.51 L293.7,1148.66 L294.28,1149.68 L294.85,1150.34 L295.42,1151.52 L295.99,1152.12 L296.56,1153.46 L297.13,1154.46 L297.7,1155.33 L298.27,1155.93 L298.85,1156.87 L299.42,1157.88 L299.99,1158.68 L300.56,1159.72 L301.13,1159.88 L301.7,1160.39 L302.27,1161.03 L302.84,1161.68 L303.42,1162.52 L303.99,1163.15 L304.56,1163.4 L305.13,1164.15 L305.7,1164.75 L306.27,1164.65 L306.84,1164.75 L307.42,1165.28 L307.99,1165.65 L308.56,1166.07 L309.13,1166.12 L309.7,1166.75 L310.27,1167.08 L310.84,1167.28 L311.41,1167.26 L311.99,1167.78 L312.56,1168.04 L313.13,1168.46 L313.7,1168.81 L314.27,1169.09 L314.84,1169.13 L315.41,1169.02 L315.98,1169.42 L316.56,1169.68 L317.13,1169.82 L317.7,1169.76 L318.27,1169.69 L318.84,1170.2 L319.41,1170.13 L319.98,1170.47 L320.55,1170.29 L321.13,1170.64 L321.7,1170.91 L322.27,1171 L322.84,1170.92 L323.41,1171.14 L323.98,1170.97 L324.55,1170.92 L325.13,1170.91 L325.7,1170.86 L326.27,1170.68 L326.84,1170.93 L327.41,1170.8 L327.98,1170.63 L328.55,1170.91 L329.12,1170.3 L329.7,1170.08 L330.27,1169.76 L330.84,1169.31 L331.41,1168.7 L331.98,1168.08 L332.55,1167.45 L333.12,1167.15 L333.69,1166.27 L334.27,1165.37 L334.84,1164.51 L335.41,1163.28 L335.98,1161.64 L336.55,1160.01 L337.12,1158.12 L337.69,1156.26 L338.26,1153.91 L338.84,1151.22 L339.41,1149.12 L339.98,1147.45 L340.55,1144.41 L341.12,1141.89 L341.69,1139.15 L342.26,1136.42 L342.84,1132.72 L343.41,1129.46 L343.98,1127.07 L344.55,1125.3 L345.12,1123.13 L345.69,1122.38 L346.26,1122.85 L346.83,1124.08 L347.41,1125.97 L347.98,1128.23 L348.55,1130.44 L349.12,1134.08 L349.69,1136.69 L350.26,1140.43 L350.83,1143.66 L351.4,1147.17 L351.98,1149.95 L352.55,1152.82 L353.12,1156.01 L353.69,1158.37 L354.26,1160.6 L354.83,1163.17 L355.4,1165.57 L355.97,1167.14 L356.55,1168.56 L357.12,1169.49 L357.69,1170.37 L358.26,1170.8 L358.83,1171.6 L359.4,1172.54 L359.97,1173.22 L360.55,1174.58 L361.12,1175.06 L361.69,1175.53 L362.26,1175.78 L362.83,1175.98 L363.4,1176.28 L363.97,1176.41 L364.54,1177 L365.12,1177.21 L365.69,1177.55 L366.26,1177.8 L366.83,1177.97 L367.4,1178.3 L367.97,1178.45 L368.54,1178.67 L369.11,1178.62 L369.69,1178.94 L370.26,1179.08 L370.83,1178.69 L371.4,1179 L371.97,1179.26 L372.54,1179.33 L373.11,1179.91 L373.68,1179.88 L374.26,1179.91 L374.83,1180.05 L375.4,1180.05 L375.97,1180.15 L376.54,1180.15 L377.11,1180.62 L377.68,1180.67 L378.26,1180.96 L378.83,1180.75 L379.4,1180.92 L379.97,1181.39 L380.54,1181.35 L381.11,1181.62 L381.68,1181.34 L382.25,1181.52 L382.83,1182.08 L383.4,1181.99 L383.97,1181.65 L384.54,1181.65 L385.11,1181.89 L385.68,1181.75 L386.25,1181.72 L386.82,1181.51 L387.4,1181.55 L387.97,1181.72 L388.54,1182.09 L389.11,1182.07 L389.68,1182.08 L390.25,1182.16 L390.82,1182.13 L391.39,1182.5 L391.97,1182.32 L392.54,1182.37 L393.11,1182.33 L393.68,1182.42 L394.25,1182.54 L394.82,1182.49" stroke="#0e6b0e" stroke-width="2.4" fill="none" stroke-linejoin="round"/>
<path d="M74.9,1184.32 L75.47,1184.19 L76.04,1183.91 L76.61,1183.71 L77.19,1183.66 L77.76,1183.82 L78.33,1183.86 L78.9,1183.97 L79.47,1184.22 L80.04,1184.2 L80.61,1183.92 L81.18,1183.89 L81.76,1183.97 L82.33,1184.14 L82.9,1184.05 L83.47,1184.08 L84.04,1183.98 L84.61,1183.83 L85.18,1184.25 L85.75,1184.07 L86.33,1184.22 L86.9,1184.19 L87.47,1184.23 L88.04,1183.82 L88.61,1183.66 L89.18,1183.6 L89.75,1183.78 L90.33,1184 L90.9,1183.93 L91.47,1183.77 L92.04,1183.73 L92.61,1183.56 L93.18,1183.65 L93.75,1183.31 L94.32,1183.32 L94.9,1183.07 L95.47,1183.25 L96.04,1183.42 L96.61,1183.63 L97.18,1183.43 L97.75,1183.27 L98.32,1183.34 L98.89,1183.33 L99.47,1183.44 L100.04,1183.52 L100.61,1183.53 L101.18,1183.82 L101.75,1183.82 L102.32,1183.62 L102.89,1183.49 L103.46,1183.24 L104.04,1183.17 L104.61,1183.17 L105.18,1183.23 L105.75,1183.68 L106.32,1183.5 L106.89,1183.56 L107.46,1183.34 L108.04,1183.35 L108.61,1183.36 L109.18,1183.4 L109.75,1183.37 L110.32,1183.65 L110.89,1183.73 L111.46,1183.26 L112.03,1183.14 L112.61,1183.22 L113.18,1183.24 L113.75,1183.25 L114.32,1182.59 L114.89,1182.72 L115.46,1182.88 L116.03,1183.08 L116.6,1183.49 L117.18,1183.26 L117.75,1182.9 L118.32,1182.77 L118.89,1182.82 L119.46,1183 L120.03,1183.19 L120.6,1183.06 L121.17,1183.08 L121.75,1183.21 L122.32,1182.77 L122.89,1182.99 L123.46,1183.04 L124.03,1183.39 L124.6,1182.84 L125.17,1182.87 L125.75,1182.86 L126.32,1182.79 L126.89,1182.95 L127.46,1182.99 L128.03,1182.84 L128.6,1182.96 L129.17,1182.81 L129.74,1182.56 L130.32,1182.51 L130.89,1182.35 L131.46,1182.32 L132.03,1182.19 L132.6,1182.37 L133.17,1182.44 L133.74,1182.76 L134.31,1182.76 L134.89,1182.86 L135.46,1182.79 L136.03,1182.93 L136.6,1182.75 L137.17,1182.24 L137.74,1182.57 L138.31,1182.5 L138.88,1182.45 L139.46,1182.67 L140.03,1182.71 L140.6,1182.77 L141.17,1182.62 L141.74,1182.74 L142.31,1182.21 L142.88,1182.23 L143.46,1182.19 L144.03,1181.98 L144.6,1182 L145.17,1182.28 L145.74,1182.35 L146.31,1182.44 L146.88,1182.44 L147.45,1182.31 L148.03,1182.78 L148.6,1182.97 L149.17,1182.83 L149.74,1182.61 L150.31,1182.65 L150.88,1182.61 L151.45,1182.35 L152.02,1182.28 L152.6,1182.38 L153.17,1182.46 L153.74,1182.71 L154.31,1182.49 L154.88,1182.42 L155.45,1182.57 L156.02,1182.39 L156.59,1182.43 L157.17,1182.44 L157.74,1182.68 L158.31,1182.33 L158.88,1182.44 L159.45,1182.29 L160.02,1182.21 L160.59,1182.3 L161.17,1182.25 L161.74,1182.24 L162.31,1182.23 L162.88,1182.13 L163.45,1182.22 L164.02,1182.01 L164.59,1181.99 L165.16,1182.2 L165.74,1182.02 L166.31,1182.05 L166.88,1181.9 L167.45,1182.32 L168.02,1182.04 L168.59,1182.36 L169.16,1182.18 L169.73,1181.41 L170.31,1181.43 L170.88,1181.36 L171.45,1181.63 L172.02,1181.84 L172.59,1181.74 L173.16,1181.58 L173.73,1181.57 L174.3,1181.66 L174.88,1181.72 L175.45,1181.65 L176.02,1181.22 L176.59,1181.26 L177.16,1181.33 L177.73,1181.33 L178.3,1181.44 L178.88,1181.55 L179.45,1181.31 L180.02,1180.93 L180.59,1180.86 L181.16,1181.15 L181.73,1180.74 L182.3,1180.73 L182.87,1180.4 L183.45,1180.58 L184.02,1180.87 L184.59,1180.72 L185.16,1180.68 L185.73,1180.82 L186.3,1180.8 L186.87,1180.71 L187.44,1180.72 L188.02,1180.43 L188.59,1180.3 L189.16,1180.35 L189.73,1180.34 L190.3,1180.08 L190.87,1180 L191.44,1180.23 L192.01,1180.06 L192.59,1179.67 L193.16,1179.7 L193.73,1179.91 L194.3,1179.56 L194.87,1179.16 L195.44,1179.35 L196.01,1179.89 L196.59,1180 L197.16,1179.41 L197.73,1179.45 L198.3,1179.27 L198.87,1179.18 L199.44,1179.17 L200.01,1178.86 L200.58,1178.93 L201.16,1178.87 L201.73,1178.86 L202.3,1178.83 L202.87,1178.38 L203.44,1178.77 L204.01,1178.97 L204.58,1178.62 L205.15,1178.84 L205.73,1178.67 L206.3,1178.77 L206.87,1178.43 L207.44,1178.39 L208.01,1178.21 L208.58,1178.35 L209.15,1178.28 L209.72,1178.62 L210.3,1178.19 L210.87,1177.99 L211.44,1177.93 L212.01,1177.85 L212.58,1177.84 L213.15,1177.74 L213.72,1177.27 L214.3,1177.43 L214.87,1177.45 L215.44,1177.18 L216.01,1177.06 L216.58,1177.09 L217.15,1176.6 L217.72,1176.25 L218.29,1176.35 L218.87,1175.91 L219.44,1176.18 L220.01,1175.67 L220.58,1175.89 L221.15,1175.52 L221.72,1175.29 L222.29,1175.09 L222.86,1174.66 L223.44,1174.61 L224.01,1174.4 L224.58,1174.22 L225.15,1173.47 L225.72,1173.3 L226.29,1172.86 L226.86,1172.55 L227.43,1171.95 L228.01,1171.83 L228.58,1171.52 L229.15,1171.09 L229.72,1170.46 L230.29,1170.05 L230.86,1169.33 L231.43,1168.64 L232.01,1167.87 L232.58,1167.24 L233.15,1166.4 L233.72,1165.95 L234.29,1165.36 L234.86,1164.68 L235.43,1163.89 L236,1163.13 L236.58,1161.87 L237.15,1160.72 L237.72,1160 L238.29,1158.59 L238.86,1157.32 L239.43,1156 L240,1154.41 L240.57,1152.46 L241.15,1150.81 L241.72,1149.52 L242.29,1147.37 L242.86,1145.43 L243.43,1142.65 L244,1140.39 L244.57,1137.72 L245.14,1134.84 L245.72,1131.89 L246.29,1128.52 L246.86,1124.86 L247.43,1120.42 L248,1116.58 L248.57,1112.37 L249.14,1108.09 L249.72,1103.59 L250.29,1098.66 L250.86,1092.96 L251.43,1088.28 L252,1082.07 L252.57,1075.69 L253.14,1068.58 L253.71,1062.2 L254.29,1055.25 L254.86,1048.75 L255.43,1043.49 L256,1038.07 L256.57,1033.13 L257.14,1027.73 L257.71,1022.88 L258.28,1018.28 L258.86,1014.59 L259.43,1012.45 L260,1009.45 L260.57,1007.39 L261.14,1005.14 L261.71,1003.94 L262.28,1003.04 L262.85,1004.05 L263.43,1004.76 L264,1007.48 L264.57,1010.18 L265.14,1013.02 L265.71,1016.89 L266.28,1020.36 L266.85,1025.61 L267.43,1031.72 L268,1039.05 L268.57,1047.03 L269.14,1054.96 L269.71,1062.54 L270.28,1069.46 L270.85,1076.11 L271.42,1081.94 L272,1086.93 L272.57,1091.91 L273.14,1096.44 L273.71,1100.43 L274.28,1104.25 L274.85,1108.62 L275.42,1112.09 L275.99,1115.21 L276.57,1118.12 L277.14,1121.26 L277.71,1124.31 L278.28,1126.34 L278.85,1129.8 L279.42,1131.6 L279.99,1134.04 L280.56,1136.21 L281.14,1138.16 L281.71,1139.95 L282.28,1141.98 L282.85,1143.91 L283.42,1145.26 L283.99,1146.43 L284.56,1148.03 L285.14,1148.93 L285.71,1150.76 L286.28,1151.84 L286.85,1153.01 L287.42,1153.96 L287.99,1155.46 L288.56,1156.36 L289.13,1157.44 L289.71,1158.9 L290.28,1159.71 L290.85,1160.74 L291.42,1161.45 L291.99,1161.99 L292.56,1162.77 L293.13,1163.14 L293.7,1163.9 L294.28,1164.88 L294.85,1165.66 L295.42,1166.22 L295.99,1167.02 L296.56,1167.46 L297.13,1167.94 L297.7,1168.36 L298.27,1168.96 L298.85,1169.51 L299.42,1170.27 L299.99,1170.6 L300.56,1171.03 L301.13,1171.37 L301.7,1171.67 L302.27,1172.22 L302.84,1172.62 L303.42,1173.05 L303.99,1173.52 L304.56,1174.04 L305.13,1174.31 L305.7,1174.3 L306.27,1174.94 L306.84,1174.88 L307.42,1174.9 L307.99,1174.98 L308.56,1175.34 L309.13,1175.63 L309.7,1175.59 L310.27,1175.7 L310.84,1175.63 L311.41,1176.05 L311.99,1176.33 L312.56,1176.25 L313.13,1176.53 L313.7,1176.69 L314.27,1176.55 L314.84,1176.61 L315.41,1176.9 L315.98,1176.92 L316.56,1177.08 L317.13,1177 L317.7,1177.12 L318.27,1177.44 L318.84,1177.17 L319.41,1177.38 L319.98,1177.51 L320.55,1177.74 L321.13,1177.78 L321.7,1177.91 L322.27,1177.84 L322.84,1177.84 L323.41,1177.75 L323.98,1177.81 L324.55,1178.1 L325.13,1178.31 L325.7,1178.47 L326.27,1178.23 L326.84,1178.43 L327.41,1178.1 L327.98,1178.16 L328.55,1178.2 L329.12,1178.15 L329.7,1177.78 L330.27,1177.85 L330.84,1177.92 L331.41,1178.02 L331.98,1178.12 L332.55,1177.93 L333.12,1177.38 L333.69,1177.13 L334.27,1177.16 L334.84,1177.42 L335.41,1176.76 L335.98,1176.37 L336.55,1176.41 L337.12,1175.85 L337.69,1175.46 L338.26,1174.58 L338.84,1173.87 L339.41,1173.44 L339.98,1173.21 L340.55,1172.43 L341.12,1171.16 L341.69,1170.58 L342.26,1170.1 L342.84,1169.23 L343.41,1168.79 L343.98,1167.99 L344.55,1168.07 L345.12,1167.73 L345.69,1167.13 L346.26,1167.03 L346.83,1167.34 L347.41,1168.19 L347.98,1168.6 L348.55,1168.99 L349.12,1169.9 L349.69,1170.75 L350.26,1171.44 L350.83,1172.37 L351.4,1173.01 L351.98,1173.84 L352.55,1174.77 L353.12,1175.63 L353.69,1176.22 L354.26,1176.82 L354.83,1177.02 L355.4,1177.5 L355.97,1178.31 L356.55,1178.26 L357.12,1178.19 L357.69,1178.81 L358.26,1179.08 L358.83,1179.46 L359.4,1179.61 L359.97,1179.91 L360.55,1180.09 L361.12,1180.36 L361.69,1180.7 L362.26,1180.91 L362.83,1181.16 L363.4,1181.34 L363.97,1181.44 L364.54,1180.99 L365.12,1181.12 L365.69,1181.03 L366.26,1181.63 L366.83,1181.78 L367.4,1181.66 L367.97,1181.58 L368.54,1181.71 L369.11,1181.98 L369.69,1182.34 L370.26,1182.25 L370.83,1182.58 L371.4,1182.43 L371.97,1182.52 L372.54,1182.61 L373.11,1182.69 L373.68,1182.91 L374.26,1183 L374.83,1182.77 L375.4,1182.86 L375.97,1182.94 L376.54,1182.69 L377.11,1182.62 L377.68,1182.65 L378.26,1183.02 L378.83,1182.76 L379.4,1182.72 L379.97,1183 L380.54,1183.09 L381.11,1182.88 L381.68,1182.72 L382.25,1182.92 L382.83,1183.19 L383.4,1182.91 L383.97,1183.08 L384.54,1182.94 L385.11,1183.02 L385.68,1183.1 L386.25,1183.21 L386.82,1182.93 L387.4,1183.12 L387.97,1183.16 L388.54,1183.32 L389.11,1182.93 L389.68,1183.08 L390.25,1183.39 L390.82,1183.38 L391.39,1183.68 L391.97,1183.58 L392.54,1183.72 L393.11,1183.36 L393.68,1183.12 L394.25,1182.84 L394.82,1183.17" stroke="#1414f5" stroke-width="2.4" fill="none" stroke-linejoin="round"/>
<g clip-path="url(#clipC2)"><path d="M403.85,1172.92 L404.5,1172.52 L405.15,1173.84 L405.8,1174.55 L406.44,1174.13 L407.09,1173.14 L407.74,1173.69 L408.39,1175.04 L409.04,1175.43 L409.69,1175.2 L410.34,1174.53 L410.98,1174.95 L411.63,1175.43 L412.28,1175.62 L412.93,1175.5 L413.58,1176.11 L414.23,1175.93 L414.88,1175.74 L415.52,1174.82 L416.17,1175.61 L416.82,1175.33 L417.47,1176.58 L418.12,1175.92 L418.77,1176.16 L419.42,1176.77 L420.06,1176.74 L420.71,1176.17 L421.36,1176.77 L422.01,1176.17 L422.66,1175.63 L423.31,1175.36 L423.96,1175.26 L424.6,1177.12 L425.25,1176.85 L425.9,1177.39 L426.55,1176.51 L427.2,1176.65 L427.85,1176.53 L428.5,1176.25 L429.14,1176.73 L429.79,1176.39 L430.44,1176.7 L431.09,1174.92 L431.74,1175.78 L432.39,1175.78 L433.04,1176.89 L433.69,1177.1 L434.33,1176.71 L434.98,1175.42 L435.63,1174.84 L436.28,1174.88 L436.93,1175.47 L437.58,1174.07 L438.23,1175.36 L438.87,1175.84 L439.52,1175.25 L440.17,1176.09 L440.82,1175.76 L441.47,1175.32 L442.12,1175.98 L442.77,1176.12 L443.41,1176.58 L444.06,1177.4 L444.71,1179.51 L445.36,1179.24 L446.01,1178.43 L446.66,1179.29 L447.31,1179.06 L447.95,1178.57 L448.6,1177.74 L449.25,1179.26 L449.9,1179.43 L450.55,1179.08 L451.2,1178.81 L451.85,1180.02 L452.49,1178.48 L453.14,1179.66 L453.79,1178.97 L454.44,1179.58 L455.09,1179.49 L455.74,1178.66 L456.39,1178.96 L457.03,1179.48 L457.68,1180.43 L458.33,1180.57 L458.98,1181.11 L459.63,1179.04 L460.28,1180.48 L460.93,1181.71 L461.57,1179.39 L462.22,1178.61 L462.87,1179.29 L463.52,1178.73 L464.17,1179.52 L464.82,1179.63 L465.47,1178.89 L466.11,1178.58 L466.76,1178.95 L467.41,1177.66 L468.06,1177.63 L468.71,1177.94 L469.36,1178.86 L470.01,1178.27 L470.65,1178.22 L471.3,1177.94 L471.95,1177.13 L472.6,1177.59 L473.25,1177.12 L473.9,1176.47 L474.55,1176.39 L475.19,1174.99 L475.84,1177 L476.49,1176.67 L477.14,1177.22 L477.79,1176.69 L478.44,1174.74 L479.09,1176.67 L479.73,1176.6 L480.38,1175.96 L481.03,1176.09 L481.68,1175.63 L482.33,1177.1 L482.98,1176.07 L483.63,1176.95 L484.27,1177.52 L484.92,1176.6 L485.57,1176.29 L486.22,1176.96 L486.87,1177.29 L487.52,1177 L488.17,1176.71 L488.82,1176.64 L489.46,1177.1 L490.11,1178.1 L490.76,1176.03 L491.41,1175.84 L492.06,1176.61 L492.71,1177.06 L493.36,1176.57 L494,1176.07 L494.65,1176.88 L495.3,1174.76 L495.95,1174.37 L496.6,1174.56 L497.25,1174.03 L497.9,1173.72 L498.54,1172.85 L499.19,1172.9 L499.84,1171.98 L500.49,1171.19 L501.14,1171.85 L501.79,1171.98 L502.44,1172.05 L503.08,1171.37 L503.73,1171.12 L504.38,1170.2 L505.03,1169.28 L505.68,1168.38 L506.33,1168.73 L506.98,1166.99 L507.62,1166.74 L508.27,1166.04 L508.92,1165.51 L509.57,1165.75 L510.22,1163.8 L510.87,1163.74 L511.52,1161.18 L512.16,1160.17 L512.81,1158.05 L513.46,1157.07 L514.11,1155.9 L514.76,1154.2 L515.41,1153.7 L516.06,1151.7 L516.7,1151.23 L517.35,1150.07 L518,1149.53 L518.65,1147.89 L519.3,1146.58 L519.95,1146.35 L520.6,1146.42 L521.24,1145.38 L521.89,1144.52 L522.54,1144.55 L523.19,1145.24 L523.84,1145.61 L524.49,1145.82 L525.14,1147.94 L525.78,1148.02 L526.43,1147.32 L527.08,1149.5 L527.73,1150.41 L528.38,1150.25 L529.03,1151.56 L529.68,1152.71 L530.32,1154.62 L530.97,1156.92 L531.62,1155.77 L532.27,1157.66 L532.92,1159.13 L533.57,1159.41 L534.22,1160.65 L534.86,1162.21 L535.51,1164.14 L536.16,1164.8 L536.81,1165.52 L537.46,1166.6 L538.11,1167.57 L538.76,1168.44 L539.4,1168.56 L540.05,1169.26 L540.7,1169.19 L541.35,1169.04 L542,1169.71 L542.65,1170.44 L543.3,1169.96 L543.94,1170.58 L544.59,1172.46 L545.24,1172.94 L545.89,1172.72 L546.54,1173.51 L547.19,1172.92 L547.84,1174.49 L548.49,1175.4 L549.13,1173.99 L549.78,1173.8 L550.43,1175.29 L551.08,1174.91 L551.73,1174.02 L552.38,1175.39 L553.03,1176.1 L553.67,1176.52 L554.32,1176.62 L554.97,1177.25 L555.62,1176.76 L556.27,1177.28 L556.92,1176.56 L557.57,1174.89 L558.21,1176.43 L558.86,1175.84 L559.51,1175.48 L560.16,1177.7 L560.81,1177.08 L561.46,1176.95 L562.11,1177.16 L562.75,1176.55 L563.4,1177.16 L564.05,1176.93 L564.7,1177.37 L565.35,1177.43 L566,1177.92 L566.65,1176.13 L567.29,1176.97 L567.94,1178.06 L568.59,1176.51 L569.24,1176.14 L569.89,1177.19 L570.54,1177.97 L571.19,1178.38 L571.83,1177.26 L572.48,1177.86 L573.13,1178.39 L573.78,1177.61 L574.43,1178.04 L575.08,1178.1 L575.73,1176.83 L576.37,1177.02 L577.02,1176.88 L577.67,1177.38 L578.32,1177.04 L578.97,1177.88 L579.62,1177.5 L580.27,1177.3 L580.91,1178.2 L581.56,1179.18 L582.21,1178.39 L582.86,1178.51 L583.51,1178.1 L584.16,1178.74 L584.81,1178.27 L585.45,1177.8 L586.1,1176.69 L586.75,1176.62 L587.4,1177.53 L588.05,1177.23 L588.7,1178.48 L589.35,1177.83 L589.99,1178.25 L590.64,1177.65 L591.29,1178.07 L591.94,1178.63 L592.59,1179.2 L593.24,1178.14 L593.89,1178.5 L594.53,1178.22 L595.18,1178.27 L595.83,1179.98 L596.48,1178.95 L597.13,1179.17 L597.78,1178.77 L598.43,1178.54 L599.07,1179.98 L599.72,1179.6 L600.37,1179.28 L601.02,1178.85 L601.67,1178.32 L602.32,1179.17 L602.97,1179.24 L603.62,1178.71 L604.26,1180.13 L604.91,1178.28 L605.56,1179.37 L606.21,1178.33 L606.86,1178.68 L607.51,1177.68 L608.16,1177.82 L608.8,1178.6 L609.45,1180.04 L610.1,1179.43 L610.75,1179.06 L611.4,1178.76 L612.05,1179.84 L612.7,1180.01 L613.34,1180.05 L613.99,1179.37 L614.64,1179.85 L615.29,1179.56 L615.94,1178.75 L616.59,1179.31 L617.24,1178.37 L617.88,1178.68" stroke="#0e6b0e" stroke-width="2.4" fill="none" stroke-linejoin="round"/>
<path d="M403.85,1174.66 L404.5,1174.74 L405.15,1174.17 L405.8,1174.83 L406.44,1175.57 L407.09,1176.35 L407.74,1175.06 L408.39,1175.28 L409.04,1175.8 L409.69,1176.35 L410.34,1177.77 L410.98,1176.53 L411.63,1176.84 L412.28,1176.38 L412.93,1175.1 L413.58,1176 L414.23,1176.27 L414.88,1175.62 L415.52,1176.27 L416.17,1176.36 L416.82,1177.42 L417.47,1177.73 L418.12,1178.46 L418.77,1176.86 L419.42,1176.03 L420.06,1177.02 L420.71,1177.22 L421.36,1177.53 L422.01,1175.37 L422.66,1175.75 L423.31,1176.77 L423.96,1176.59 L424.6,1176.04 L425.25,1177.56 L425.9,1176.96 L426.55,1176.68 L427.2,1176.93 L427.85,1176.39 L428.5,1175.77 L429.14,1176.3 L429.79,1176.72 L430.44,1175.86 L431.09,1175.99 L431.74,1175.8 L432.39,1174.5 L433.04,1175.08 L433.69,1175.59 L434.33,1176.7 L434.98,1175.84 L435.63,1175.43 L436.28,1175.04 L436.93,1174.87 L437.58,1174.67 L438.23,1174.94 L438.87,1175.17 L439.52,1175.03 L440.17,1176.04 L440.82,1176.82 L441.47,1177.32 L442.12,1176.88 L442.77,1178.27 L443.41,1178.05 L444.06,1177.9 L444.71,1177.6 L445.36,1178.59 L446.01,1178.3 L446.66,1178.32 L447.31,1178.87 L447.95,1178.77 L448.6,1179.03 L449.25,1179.93 L449.9,1179.82 L450.55,1180.26 L451.2,1178.44 L451.85,1179.34 L452.49,1180.09 L453.14,1181.08 L453.79,1180.5 L454.44,1180.03 L455.09,1180.13 L455.74,1181.26 L456.39,1181.51 L457.03,1181.66 L457.68,1180.77 L458.33,1181.14 L458.98,1180.71 L459.63,1179.1 L460.28,1181.1 L460.93,1180.71 L461.57,1180.32 L462.22,1181.21 L462.87,1179.62 L463.52,1179.88 L464.17,1179.44 L464.82,1179.04 L465.47,1178.19 L466.11,1179.3 L466.76,1179.69 L467.41,1180.27 L468.06,1180.43 L468.71,1178.15 L469.36,1178.8 L470.01,1179.93 L470.65,1178.5 L471.3,1176.99 L471.95,1178.3 L472.6,1178.06 L473.25,1178.86 L473.9,1179.56 L474.55,1178.41 L475.19,1178.6 L475.84,1178.61 L476.49,1177.66 L477.14,1176.94 L477.79,1177.07 L478.44,1176 L479.09,1177 L479.73,1177.21 L480.38,1176.41 L481.03,1175.1 L481.68,1174.74 L482.33,1175.44 L482.98,1176.39 L483.63,1177.94 L484.27,1176.52 L484.92,1177.13 L485.57,1175.6 L486.22,1176.68 L486.87,1178.66 L487.52,1177.18 L488.17,1177.25 L488.82,1177.78 L489.46,1177.43 L490.11,1177.35 L490.76,1177.04 L491.41,1178.43 L492.06,1177.59 L492.71,1176.86 L493.36,1177.75 L494,1176.14 L494.65,1176.48 L495.3,1177.95 L495.95,1175.72 L496.6,1176.17 L497.25,1175.92 L497.9,1175.88 L498.54,1174.12 L499.19,1174.68 L499.84,1175.32 L500.49,1175.4 L501.14,1174.34 L501.79,1173.71 L502.44,1174.22 L503.08,1173.02 L503.73,1173.54 L504.38,1172.9 L505.03,1172.11 L505.68,1171.72 L506.33,1171.31 L506.98,1170.85 L507.62,1170.95 L508.27,1170.14 L508.92,1169.38 L509.57,1169.91 L510.22,1169.9 L510.87,1168.21 L511.52,1167.34 L512.16,1166.41 L512.81,1165.13 L513.46,1164.42 L514.11,1164.34 L514.76,1163.01 L515.41,1162.9 L516.06,1160.52 L516.7,1159.54 L517.35,1159.41 L518,1159.38 L518.65,1158.05 L519.3,1157.56 L519.95,1157.42 L520.6,1156.07 L521.24,1155.53 L521.89,1154.52 L522.54,1154.74 L523.19,1153.18 L523.84,1152.67 L524.49,1155.04 L525.14,1156.53 L525.78,1156.56 L526.43,1154.99 L527.08,1155.33 L527.73,1156.25 L528.38,1156.95 L529.03,1158.82 L529.68,1159.02 L530.32,1160.49 L530.97,1160.65 L531.62,1161.63 L532.27,1162.66 L532.92,1163.55 L533.57,1163.55 L534.22,1162.99 L534.86,1165.91 L535.51,1165.7 L536.16,1166.85 L536.81,1166.24 L537.46,1166.64 L538.11,1168.61 L538.76,1169.05 L539.4,1168.53 L540.05,1168.41 L540.7,1170.32 L541.35,1171.67 L542,1171.49 L542.65,1170.85 L543.3,1171.08 L543.94,1171.83 L544.59,1172.18 L545.24,1172.49 L545.89,1173.14 L546.54,1174.29 L547.19,1173.71 L547.84,1173.81 L548.49,1173.63 L549.13,1174.37 L549.78,1175.15 L550.43,1174.64 L551.08,1174.45 L551.73,1173.76 L552.38,1175.91 L553.03,1176.24 L553.67,1176.3 L554.32,1174.61 L554.97,1177.32 L555.62,1176.09 L556.27,1176.94 L556.92,1177.56 L557.57,1176.46 L558.21,1176.13 L558.86,1179 L559.51,1178.81 L560.16,1177.85 L560.81,1177.88 L561.46,1176.72 L562.11,1177.74 L562.75,1177.79 L563.4,1179.3 L564.05,1177.92 L564.7,1177.76 L565.35,1177.21 L566,1178.09 L566.65,1176.58 L567.29,1177.85 L567.94,1176.62 L568.59,1176.07 L569.24,1177.93 L569.89,1177.9 L570.54,1178.55 L571.19,1179.72 L571.83,1178.47 L572.48,1178.37 L573.13,1177.35 L573.78,1176.76 L574.43,1179.01 L575.08,1178.93 L575.73,1178.39 L576.37,1177.84 L577.02,1178.14 L577.67,1179 L578.32,1178.97 L578.97,1178.31 L579.62,1179.51 L580.27,1180.08 L580.91,1180.28 L581.56,1179.93 L582.21,1178.31 L582.86,1178.98 L583.51,1178.4 L584.16,1177.67 L584.81,1177.5 L585.45,1178.17 L586.1,1178.72 L586.75,1178.91 L587.4,1179.21 L588.05,1179.66 L588.7,1178.96 L589.35,1178.34 L589.99,1179.21 L590.64,1179.83 L591.29,1179.45 L591.94,1179.26 L592.59,1178.61 L593.24,1178.8 L593.89,1178.95 L594.53,1180.25 L595.18,1180.01 L595.83,1179.81 L596.48,1179.97 L597.13,1179.23 L597.78,1179.25 L598.43,1179.87 L599.07,1179.23 L599.72,1178.43 L600.37,1177.19 L601.02,1178.5 L601.67,1179.35 L602.32,1178.72 L602.97,1177.84 L603.62,1179.15 L604.26,1178.81 L604.91,1179.32 L605.56,1178.71 L606.21,1179.65 L606.86,1179.84 L607.51,1179.81 L608.16,1179.72 L608.8,1180.52 L609.45,1180.1 L610.1,1180.36 L610.75,1178.45 L611.4,1178.04 L612.05,1179.34 L612.7,1179.8 L613.34,1179.37 L613.99,1179.87 L614.64,1180.09 L615.29,1179.27 L615.94,1178.6 L616.59,1178.79 L617.24,1178.19 L617.88,1178.95" stroke="#1414f5" stroke-width="2.4" fill="none" stroke-linejoin="round"/></g>
<text x="251.5" y="844" font-size="20.8">A<tspan dy="4.5" font-size="13.5">1</tspan></text>
<text x="129" y="1133.2" font-size="20.8" text-anchor="start" >E(1)</text>
<text x="338.2" y="1113.2" font-size="20.8" text-anchor="start" >E(2)</text>
<text x="419.3" y="1168.3" font-size="20.8" text-anchor="start" >x10</text>
<text x="531" y="1142.3" font-size="20.8" text-anchor="start" >E’</text>
<line x1="84.7" y1="838.8" x2="106.6" y2="838.8" stroke="#0e6b0e" stroke-width="2"/>
<line x1="84.7" y1="877.6" x2="106.6" y2="877.6" stroke="#1414f5" stroke-width="2"/>
<text x="115.5" y="846.4" font-size="20.8">E</text><path d="M130.3,846.2h10.4M135.5,846.2v-13" stroke="#000" stroke-width="1.3" fill="none"/><text x="141.2" y="846.4" font-size="20.8">c</text>
<text x="115.5" y="885.8" font-size="20.8">E</text><path d="M134.3,865.5v22M140.6,865.5v22" stroke="#000" stroke-width="1.4" fill="none"/><text x="146.5" y="885.8" font-size="20.8">c</text>
<rect x="386.8" y="812.3" width="230.8" height="186.4" fill="#fff" stroke="none"/>
<clipPath id="clipIn"><rect x="386.8" y="812.3" width="230.8" height="186.4"/></clipPath>
<g clip-path="url(#clipIn)"><path d="M387.4,973.25 L387.9,971.07 L388.4,968.71 L388.9,966.11 L389.4,969.14 L389.91,969.12 L390.41,968.92 L390.91,967.37 L391.41,965.92 L391.91,966.44 L392.41,963.85 L392.91,964.62 L393.41,961.63 L393.91,961.78 L394.41,959.69 L394.92,958.06 L395.42,957.49 L395.92,957.28 L396.42,956.86 L396.92,956.54 L397.42,952.59 L397.92,951.46 L398.42,949.05 L398.92,949.03 L399.42,948.53 L399.93,948.78 L400.43,948.01 L400.93,948.6 L401.43,945.59 L401.93,943.84 L402.43,942.14 L402.93,940.99 L403.43,942.44 L403.93,944.28 L404.43,941.36 L404.94,940.24 L405.44,940.56 L405.94,940.28 L406.44,938.15 L406.94,935.98 L407.44,935.85 L407.94,936.42 L408.44,934.92 L408.94,933.62 L409.44,934.6 L409.95,932.87 L410.45,933.11 L410.95,931.82 L411.45,930.28 L411.95,929.34 L412.45,929.54 L412.95,927.34 L413.45,927.08 L413.95,924.46 L414.45,924.56 L414.96,922.63 L415.46,920.91 L415.96,919.45 L416.46,917.25 L416.96,915.34 L417.46,912.43 L417.96,911.06 L418.46,908.99 L418.96,908.5 L419.46,905.78 L419.97,903.67 L420.47,901.42 L420.97,899.42 L421.47,898.86 L421.97,897.76 L422.47,895.89 L422.97,894.13 L423.47,891.55 L423.97,891.94 L424.47,890.39 L424.98,888.92 L425.48,889.14 L425.98,890.6 L426.48,891.67 L426.98,892.03 L427.48,892.86 L427.98,894.98 L428.48,897 L428.98,898.63 L429.49,901.71 L429.99,902.79 L430.49,906.52 L430.99,907.67 L431.49,911.77 L431.99,912.97 L432.49,915.57 L432.99,918.86 L433.49,919.92 L433.99,920.95 L434.5,922.23 L435,923.96 L435.5,925.7 L436,927.25 L436.5,928.18 L437,928.13 L437.5,929.03 L438,929.5 L438.5,930.42 L439,930.08 L439.51,929.36 L440.01,929.4 L440.51,932.42 L441.01,933.73 L441.51,934.65 L442.01,934.55 L442.51,932.57 L443.01,933.79 L443.51,934.02 L444.01,934.49 L444.52,936.36 L445.02,936.63 L445.52,936.37 L446.02,936.44 L446.52,936.04 L447.02,936.02 L447.52,935.82 L448.02,937.08 L448.52,935.16 L449.02,934.8 L449.53,935.72 L450.03,935.89 L450.53,936.29 L451.03,937.44 L451.53,935.4 L452.03,935.48 L452.53,934.07 L453.03,933.01 L453.53,934.96 L454.03,935.6 L454.54,934.28 L455.04,934.58 L455.54,934.74 L456.04,934.49 L456.54,933.54 L457.04,934.67 L457.54,933.77 L458.04,932.39 L458.54,933.16 L459.04,933.26 L459.55,932.49 L460.05,931.59 L460.55,931.09 L461.05,931.18 L461.55,930.16 L462.05,931.48 L462.55,930.02 L463.05,930.11 L463.55,930.76 L464.05,931.89 L464.56,929.59 L465.06,929.43 L465.56,928.85 L466.06,927.48 L466.56,928.18 L467.06,927.21 L467.56,926.38 L468.06,925.08 L468.56,925.18 L469.06,923.7 L469.57,924.52 L470.07,924.12 L470.57,923.98 L471.07,923.71 L471.57,921.02 L472.07,920.43 L472.57,919.9 L473.07,918.97 L473.57,918.06 L474.08,918.36 L474.58,917.15 L475.08,915.42 L475.58,915.26 L476.08,913.83 L476.58,912.71 L477.08,912 L477.58,911.25 L478.08,909.68 L478.58,907.67 L479.09,905.8 L479.59,905.59 L480.09,903.49 L480.59,901.37 L481.09,900.98 L481.59,899.58 L482.09,896.67 L482.59,894.22 L483.09,892.14 L483.59,889.48 L484.1,887.68 L484.6,885.34 L485.1,883.91 L485.6,881.99 L486.1,880.31 L486.6,877.6 L487.1,875.26 L487.6,872.9 L488.1,869.74 L488.6,867.05 L489.11,864.89 L489.61,862.13 L490.11,859.27 L490.61,856.35 L491.11,854.06 L491.61,850.81 L492.11,848.5 L492.61,845.72 L493.11,843.72 L493.61,840.5 L494.12,839.84 L494.62,837.28 L495.12,836.35 L495.62,834.02 L496.12,834.16 L496.62,832.93 L497.12,832.58 L497.62,831.77 L498.12,832.69 L498.62,832.92 L499.13,833.03 L499.63,833.34 L500.13,834.69 L500.63,836.78 L501.13,837.88 L501.63,839.57 L502.13,840.94 L502.63,842.76 L503.13,844.89 L503.63,846.47 L504.14,847.47 L504.64,849.51 L505.14,852.11 L505.64,853.93 L506.14,857 L506.64,859.08 L507.14,860.85 L507.64,862.88 L508.14,864.95 L508.64,866.49 L509.15,867.16 L509.65,869.44 L510.15,871.17 L510.65,872.17 L511.15,875.88 L511.65,877.23 L512.15,878.03 L512.65,880.63 L513.15,882.03 L513.66,882.46 L514.16,884.17 L514.66,885.67 L515.16,886.02 L515.66,889.33 L516.16,889.75 L516.66,892.16 L517.16,892.92 L517.66,893.86 L518.16,895.25 L518.67,896.79 L519.17,897.44 L519.67,898.6 L520.17,899.49 L520.67,900.4 L521.17,901.68 L521.67,902.12 L522.17,904.31 L522.67,906.89 L523.17,908.58 L523.68,908.68 L524.18,910.01 L524.68,910.38 L525.18,910.6 L525.68,910.06 L526.18,912.11 L526.68,912.18 L527.18,913.85 L527.68,913.31 L528.18,915.62 L528.69,914.18 L529.19,915.15 L529.69,914.02 L530.19,915.14 L530.69,916.7 L531.19,917.2 L531.69,917.78 L532.19,917.48 L532.69,916.82 L533.19,917.41 L533.7,918.23 L534.2,918.71 L534.7,917.51 L535.2,919.06 L535.7,918.53 L536.2,919.52 L536.7,919.85 L537.2,918.58 L537.7,919.36 L538.2,916.72 L538.71,914.99 L539.21,915.51 L539.71,915.2 L540.21,913.66 L540.71,912.35 L541.21,910.9 L541.71,907.6 L542.21,903.73 L542.71,902.02 L543.21,899.09 L543.72,896.87 L544.22,894.09 L544.72,891.82 L545.22,888.96 L545.72,885.87 L546.22,883.45 L546.72,881.18 L547.22,880.16 L547.72,878.57 L548.22,879.26 L548.73,879.25 L549.23,880.75 L549.73,882.09 L550.23,884.7 L550.73,887.82 L551.23,891.06 L551.73,894.56 L552.23,897.95 L552.73,903.07 L553.24,906.74 L553.74,909.75 L554.24,914.06 L554.74,914.81 L555.24,916.94 L555.74,921.39 L556.24,922.14 L556.74,924.55 L557.24,926.58 L557.74,927.8 L558.25,930.91 L558.75,932.44 L559.25,933.46 L559.75,936.16 L560.25,937.68 L560.75,938.81 L561.25,939.69 L561.75,942.07 L562.25,942.85 L562.75,944.38 L563.26,944.08 L563.76,945.96 L564.26,945.98 L564.76,947.28 L565.26,949.04 L565.76,948.82 L566.26,949.52 L566.76,951.27 L567.26,951.05 L567.76,950.94 L568.27,955.12 L568.77,954.27 L569.27,957.88 L569.77,957.25 L570.27,956.41 L570.77,956.74 L571.27,957.36 L571.77,958.69 L572.27,958.67 L572.77,961.44 L573.28,958.89 L573.78,963.47 L574.28,963.3 L574.78,965.59 L575.28,964.96 L575.78,965.5 L576.28,966.83 L576.78,964.29 L577.28,965.99 L577.78,967.23 L578.29,967.01 L578.79,965.93 L579.29,966.06 L579.79,967.92 L580.29,967.96 L580.79,968.42 L581.29,969.25 L581.79,970.9 L582.29,970.37 L582.79,973.44 L583.3,970.72 L583.8,969.89 L584.3,971.58 L584.8,973.01 L585.3,976.64 L585.8,975.18 L586.3,972.63 L586.8,976.3 L587.3,973.7 L587.8,975.23 L588.31,971.55 L588.81,972.31 L589.31,971.53 L589.81,973.77 L590.31,974.96 L590.81,976.85 L591.31,973.35 L591.81,975.16 L592.31,975.24 L592.81,977.9 L593.32,976.49 L593.82,978.2 L594.32,976.74 L594.82,974.13 L595.32,976.31 L595.82,978.23 L596.32,976.55 L596.82,976.35 L597.32,977.77 L597.83,980.33 L598.33,977.85 L598.83,976.31 L599.33,975.96 L599.83,973.96 L600.33,974.65 L600.83,975 L601.33,978.51 L601.83,977.9 L602.33,977.62 L602.84,978.56 L603.34,976.12 L603.84,977.27 L604.34,975.95 L604.84,977.42 L605.34,976.29 L605.84,974.71 L606.34,975.08 L606.84,974.44 L607.34,975.66 L607.85,979.29 L608.35,976.28 L608.85,977.41 L609.35,979.42 L609.85,975.51 L610.35,976.48 L610.85,977.49 L611.35,980.23 L611.85,976.65 L612.35,977.34 L612.86,979.4 L613.36,977.12 L613.86,975.57 L614.36,975.34 L614.86,975.02 L615.36,974.75 L615.86,978.6 L616.36,980.2 L616.86,977.86 L617.36,975.5 L617.87,972.52" stroke="#0e6b0e" stroke-width="2.4" fill="none" stroke-linejoin="round"/>
<path d="M387.4,992.55 L387.9,989 L388.4,991.29 L388.9,989.21 L389.4,991.04 L389.91,989.28 L390.41,985.77 L390.91,985.58 L391.41,984.79 L391.91,984.98 L392.41,985.42 L392.91,979.8 L393.41,984.51 L393.91,983.61 L394.41,979.65 L394.92,983.29 L395.42,983.98 L395.92,983.28 L396.42,984.07 L396.92,982.5 L397.42,980.82 L397.92,980.49 L398.42,982.14 L398.92,978.45 L399.42,980.64 L399.93,980.94 L400.43,979.26 L400.93,979.86 L401.43,976.35 L401.93,980.31 L402.43,976.72 L402.93,976.23 L403.43,977.35 L403.93,975.21 L404.43,976.7 L404.94,976.23 L405.44,977.75 L405.94,979.15 L406.44,973.42 L406.94,975.23 L407.44,973.87 L407.94,971.07 L408.44,971.9 L408.94,974.72 L409.44,974.18 L409.95,974.4 L410.45,972.9 L410.95,973.48 L411.45,973.59 L411.95,972.68 L412.45,972.15 L412.95,971.4 L413.45,971.89 L413.95,968.44 L414.45,969.35 L414.96,967.11 L415.46,967.7 L415.96,970.46 L416.46,970.33 L416.96,970.17 L417.46,973.46 L417.96,970.11 L418.46,967.08 L418.96,967.69 L419.46,971.93 L419.97,967.96 L420.47,970.37 L420.97,969.47 L421.47,967.18 L421.97,966.56 L422.47,966.09 L422.97,968.24 L423.47,967.11 L423.97,968.45 L424.47,967.08 L424.98,966.95 L425.48,966.86 L425.98,964.56 L426.48,967.64 L426.98,967.05 L427.48,968.86 L427.98,966.83 L428.48,965.92 L428.98,967.05 L429.49,965.23 L429.99,965.25 L430.49,968.02 L430.99,962.86 L431.49,962.15 L431.99,964.2 L432.49,963.18 L432.99,961.34 L433.49,962.49 L433.99,962.88 L434.5,963.18 L435,964.69 L435.5,964.84 L436,963.21 L436.5,962.32 L437,962.43 L437.5,962.06 L438,961.86 L438.5,960.9 L439,960.87 L439.51,962.42 L440.01,961.49 L440.51,960.29 L441.01,962.43 L441.51,962.52 L442.01,960.93 L442.51,959.26 L443.01,958.79 L443.51,957.01 L444.01,959.83 L444.52,959.8 L445.02,956.13 L445.52,955.72 L446.02,956.52 L446.52,955.49 L447.02,955.12 L447.52,954.61 L448.02,954.26 L448.52,954.87 L449.02,954.33 L449.53,952.48 L450.03,953.34 L450.53,954.51 L451.03,953.49 L451.53,954.8 L452.03,954.95 L452.53,951.14 L453.03,949.8 L453.53,952.14 L454.03,951.31 L454.54,950.63 L455.04,948.71 L455.54,948.82 L456.04,946.14 L456.54,947.1 L457.04,946.73 L457.54,945.89 L458.04,945.88 L458.54,947.31 L459.04,945.55 L459.55,944.51 L460.05,945.24 L460.55,945.98 L461.05,945.16 L461.55,942.37 L462.05,941.78 L462.55,941.73 L463.05,942.78 L463.55,941.41 L464.05,940.65 L464.56,940.38 L465.06,940.75 L465.56,939.76 L466.06,939.46 L466.56,940.16 L467.06,939.01 L467.56,938.71 L468.06,937.07 L468.56,937.83 L469.06,939.17 L469.57,936.98 L470.07,936.41 L470.57,935.8 L471.07,935.29 L471.57,934.5 L472.07,932.67 L472.57,931.03 L473.07,930.47 L473.57,929.37 L474.08,930.05 L474.58,929.73 L475.08,928.76 L475.58,926.89 L476.08,926.7 L476.58,926.01 L477.08,923.43 L477.58,921.27 L478.08,921.23 L478.58,918.4 L479.09,916.88 L479.59,916.87 L480.09,915.53 L480.59,913.27 L481.09,912.44 L481.59,911.16 L482.09,909.23 L482.59,906.53 L483.09,905.94 L483.59,904.17 L484.1,902.89 L484.6,901.37 L485.1,897.9 L485.6,895.47 L486.1,894.32 L486.6,892.31 L487.1,889.75 L487.6,887.4 L488.1,884.24 L488.6,881.89 L489.11,881.24 L489.61,879.23 L490.11,875.78 L490.61,873.56 L491.11,870.28 L491.61,867.82 L492.11,865.16 L492.61,862.11 L493.11,860.26 L493.61,859.15 L494.12,857.1 L494.62,855.1 L495.12,854.06 L495.62,852.99 L496.12,850.53 L496.62,850.65 L497.12,849.72 L497.62,848.77 L498.12,848.9 L498.62,849.26 L499.13,849.3 L499.63,849.02 L500.13,849.92 L500.63,850.22 L501.13,852.5 L501.63,853.43 L502.13,856.05 L502.63,858.87 L503.13,861.36 L503.63,864.06 L504.14,865.67 L504.64,867.76 L505.14,869.98 L505.64,870.88 L506.14,872.83 L506.64,874.85 L507.14,876.68 L507.64,879.02 L508.14,880.55 L508.64,882.08 L509.15,883.4 L509.65,885.28 L510.15,887.31 L510.65,888.63 L511.15,890.34 L511.65,892.9 L512.15,893.57 L512.65,895.96 L513.15,897.91 L513.66,899.16 L514.16,900.26 L514.66,901.37 L515.16,903.41 L515.66,904.27 L516.16,905.85 L516.66,908.18 L517.16,909.94 L517.66,911.26 L518.16,911.89 L518.67,912.61 L519.17,914.59 L519.67,916.34 L520.17,917.11 L520.67,917.58 L521.17,919.28 L521.67,920.13 L522.17,921.67 L522.67,922.88 L523.17,924.71 L523.68,925.5 L524.18,926.53 L524.68,929.45 L525.18,928.9 L525.68,929.48 L526.18,929.92 L526.68,930.91 L527.18,931.71 L527.68,931.95 L528.18,931.4 L528.69,933.89 L529.19,934.04 L529.69,934.23 L530.19,935.35 L530.69,936.89 L531.19,937.48 L531.69,935.44 L532.19,935.51 L532.69,936.9 L533.19,937.05 L533.7,937.48 L534.2,937.91 L534.7,937.42 L535.2,939.12 L535.7,940 L536.2,940.51 L536.7,939.8 L537.2,940.01 L537.7,938.44 L538.2,938.13 L538.71,938.03 L539.21,936.02 L539.71,935.52 L540.21,935.23 L540.71,935.18 L541.21,934.92 L541.71,933.33 L542.21,931.72 L542.71,931.65 L543.21,927.57 L543.72,926.42 L544.22,923.36 L544.72,922.14 L545.22,920.9 L545.72,918.22 L546.22,916.14 L546.72,913.63 L547.22,913.07 L547.72,912.35 L548.22,912.14 L548.73,911.96 L549.23,914.09 L549.73,915.65 L550.23,919.06 L550.73,920.38 L551.23,923.21 L551.73,926.9 L552.23,929.22 L552.73,931.71 L553.24,934.69 L553.74,937.62 L554.24,939.38 L554.74,942.45 L555.24,942.94 L555.74,944.75 L556.24,946.72 L556.74,948 L557.24,949.84 L557.74,949.33 L558.25,952.82 L558.75,955.68 L559.25,955.57 L559.75,955.79 L560.25,956.69 L560.75,958.25 L561.25,959.87 L561.75,958.57 L562.25,960.79 L562.75,960.28 L563.26,963.08 L563.76,966.89 L564.26,965.16 L564.76,967.66 L565.26,967.1 L565.76,964.6 L566.26,964 L566.76,966 L567.26,967.02 L567.76,971.64 L568.27,970.28 L568.77,971.36 L569.27,973.43 L569.77,969.64 L570.27,969.46 L570.77,969.67 L571.27,971.81 L571.77,974.36 L572.27,976.38 L572.77,973.2 L573.28,973.56 L573.78,973.61 L574.28,973.2 L574.78,973.6 L575.28,975.27 L575.78,973.47 L576.28,975.65 L576.78,975.43 L577.28,979.73 L577.78,979.48 L578.29,976.1 L578.79,979 L579.29,977.85 L579.79,981.24 L580.29,978.44 L580.79,978.33 L581.29,979.07 L581.79,982.18 L582.29,982.09 L582.79,982.55 L583.3,981.12 L583.8,980.28 L584.3,980.24 L584.8,979.73 L585.3,978.5 L585.8,981.59 L586.3,981.52 L586.8,977.67 L587.3,980.37 L587.8,978.33 L588.31,980.06 L588.81,984.61 L589.31,981.6 L589.81,981.03 L590.31,981.58 L590.81,982.58 L591.31,982.23 L591.81,981.5 L592.31,980.78 L592.81,984.98 L593.32,981.9 L593.82,982.59 L594.32,981.71 L594.82,982.59 L595.32,982.87 L595.82,985.51 L596.32,984.67 L596.82,989.74 L597.32,984.9 L597.83,986.4 L598.33,980.79 L598.83,983.46 L599.33,986.03 L599.83,986.5 L600.33,981.54 L600.83,987.22 L601.33,986.38 L601.83,983.53 L602.33,982.62 L602.84,982.01 L603.34,982.69 L603.84,982.4 L604.34,985.72 L604.84,985.35 L605.34,985.16 L605.84,985.39 L606.34,985.11 L606.84,982.97 L607.34,985.33 L607.85,983.53 L608.35,983.29 L608.85,985.49 L609.35,988.03 L609.85,987.98 L610.35,985.04 L610.85,983.69 L611.35,985.66 L611.85,985.54 L612.35,986.07 L612.86,983.59 L613.36,985.74 L613.86,985.82 L614.36,987.64 L614.86,982.95 L615.36,982.25 L615.86,982.23 L616.36,984.72 L616.86,983.61 L617.36,983.62 L617.87,984.58" stroke="#1414f5" stroke-width="2.4" fill="none" stroke-linejoin="round"/></g>
<path d="M386.8,812.3 V998.7 H617.6" fill="none" stroke="#000" stroke-width="2"/>
<path d="M386.8,838.4h-9.8 M386.8,901.5h-9.8 M386.8,965.7h-9.8 M399.28,998.7v5.6 M424.64,998.7v5.6 M450,998.7v10.5 M475.36,998.7v5.6 M500.72,998.7v5.6 M526.08,998.7v5.6 M551.44,998.7v5.6 M576.8,998.7v10.5 M602.16,998.7v5.6" stroke="#000" stroke-width="1.8" fill="none"/>
<text x="450.6" y="1031.5" font-size="20.8" text-anchor="middle" >100</text>
<text x="577.3" y="1031.5" font-size="20.8" text-anchor="middle" >150</text>
<text x="497.3" y="1065" font-size="20.8" text-anchor="middle">Raman shift (cm<tspan dy="-7.5" font-size="13.5">−1</tspan><tspan dy="7.5">)</tspan></text>
<text x="0" y="0" font-size="20.8" text-anchor="middle" transform="translate(365.3,904.8) rotate(-90)" >Intensity</text>
<text x="412.8" y="881.4" font-size="20.8" text-anchor="start" >E(1)</text>
<text x="466" y="835" font-size="20.8">A<tspan dy="4.5" font-size="13.5">1</tspan></text>
<text x="537.6" y="869.9" font-size="20.8" text-anchor="start" >E(2)</text>
<path d="M227.7,865.6 L225.2,873.6 L205.5,897.8 L225.2,921.8 L227.7,930.2 L225.2,938.6 L205.5,962.6 L225.2,986.6 L225.2,994.6" stroke="#f02020" stroke-width="1.5" fill="none"/>
<circle cx="225.2" cy="873.6" r="6.6" fill="url(#gYel)" stroke="#7a5c00" stroke-width="0.8"/>
<circle cx="205.5" cy="897.8" r="6.6" fill="url(#gGrn)" stroke="#4f6b22" stroke-width="0.8"/>
<circle cx="225.2" cy="921.8" r="6.6" fill="url(#gGray)" stroke="#111" stroke-width="0.8"/>
<circle cx="225.2" cy="938.6" r="6.6" fill="url(#gYel)" stroke="#7a5c00" stroke-width="0.8"/>
<circle cx="205.5" cy="962.6" r="6.6" fill="url(#gGrn)" stroke="#4f6b22" stroke-width="0.8"/>
<circle cx="225.2" cy="986.6" r="6.6" fill="url(#gGray)" stroke="#111" stroke-width="0.8"/>
<line x1="231.8" y1="873.6" x2="239.85" y2="873.6" stroke="#000" stroke-width="1.3"/><polygon points="245.8,873.6 237.3,877 238.58,873.6 237.3,870.2" fill="#000"/>
<line x1="231.8" y1="921.8" x2="239.85" y2="921.8" stroke="#000" stroke-width="1.3"/><polygon points="245.8,921.8 237.3,925.2 238.58,921.8 237.3,918.4" fill="#000"/>
<line x1="231.8" y1="938.6" x2="239.85" y2="938.6" stroke="#000" stroke-width="1.3"/><polygon points="245.8,938.6 237.3,942 238.58,938.6 237.3,935.2" fill="#000"/>
<line x1="231.8" y1="986.6" x2="239.85" y2="986.6" stroke="#000" stroke-width="1.3"/><polygon points="245.8,986.6 237.3,990 238.58,986.6 237.3,983.2" fill="#000"/>
<line x1="198.9" y1="897.8" x2="191.55" y2="897.8" stroke="#000" stroke-width="1.3"/><polygon points="185.6,897.8 194.1,894.4 192.82,897.8 194.1,901.2" fill="#000"/>
<line x1="198.9" y1="962.6" x2="191.55" y2="962.6" stroke="#000" stroke-width="1.3"/><polygon points="185.6,962.6 194.1,959.2 192.82,962.6 194.1,966" fill="#000"/>
<path d="M113.8,1032.3 L111.3,1040.3 L91.5,1064 L111.3,1088.3 L113.8,1096.6 L111.3,1104.9 L91.5,1128.5 L111.3,1152.7 L111.3,1160.7" stroke="#f02020" stroke-width="1.5" fill="none"/>
<circle cx="111.3" cy="1040.3" r="6.6" fill="url(#gYel)" stroke="#7a5c00" stroke-width="0.8"/>
<circle cx="91.5" cy="1064" r="6.6" fill="url(#gGrn)" stroke="#4f6b22" stroke-width="0.8"/>
<circle cx="111.3" cy="1088.3" r="6.6" fill="url(#gGray)" stroke="#111" stroke-width="0.8"/>
<circle cx="111.3" cy="1104.9" r="6.6" fill="url(#gYel)" stroke="#7a5c00" stroke-width="0.8"/>
<circle cx="91.5" cy="1128.5" r="6.6" fill="url(#gGrn)" stroke="#4f6b22" stroke-width="0.8"/>
<circle cx="111.3" cy="1152.7" r="6.6" fill="url(#gGray)" stroke="#111" stroke-width="0.8"/>
<line x1="111.3" y1="1046.9" x2="111.3" y2="1054.25" stroke="#000" stroke-width="1.3"/><polygon points="111.3,1060.2 107.9,1051.7 111.3,1052.98 114.7,1051.7" fill="#000"/>
<line x1="111.3" y1="1081.7" x2="111.3" y2="1074.35" stroke="#000" stroke-width="1.3"/><polygon points="111.3,1068.4 114.7,1076.9 111.3,1075.62 107.9,1076.9" fill="#000"/>
<line x1="111.3" y1="1111.5" x2="111.3" y2="1119.25" stroke="#000" stroke-width="1.3"/><polygon points="111.3,1125.2 107.9,1116.7 111.3,1117.98 114.7,1116.7" fill="#000"/>
<line x1="111.3" y1="1146.1" x2="111.3" y2="1139.25" stroke="#000" stroke-width="1.3"/><polygon points="111.3,1133.3 114.7,1141.8 111.3,1140.52 107.9,1141.8" fill="#000"/>
<path d="M329.7,1007 L327.2,1015 L307.8,1038.9 L327.2,1063.1 L330.2,1071.6 L327.2,1080.1 L307.8,1103.8 L327.2,1128" stroke="#f02020" stroke-width="1.5" fill="none"/>
<circle cx="327.2" cy="1015" r="6.6" fill="url(#gYel)" stroke="#7a5c00" stroke-width="0.8"/>
<circle cx="307.8" cy="1038.9" r="6.6" fill="url(#gGrn)" stroke="#4f6b22" stroke-width="0.8"/>
<circle cx="327.2" cy="1063.1" r="6.6" fill="url(#gGray)" stroke="#111" stroke-width="0.8"/>
<circle cx="327.2" cy="1080.1" r="6.6" fill="url(#gYel)" stroke="#7a5c00" stroke-width="0.8"/>
<circle cx="307.8" cy="1103.8" r="6.6" fill="url(#gGrn)" stroke="#4f6b22" stroke-width="0.8"/>
<circle cx="327.2" cy="1128" r="6.6" fill="url(#gGray)" stroke="#111" stroke-width="0.8"/>
<line x1="307.8" y1="1032.5" x2="307.8" y2="1025.45" stroke="#000" stroke-width="1.3"/><polygon points="307.8,1019.5 311.2,1028 307.8,1026.72 304.4,1028" fill="#000"/>
<line x1="327.2" y1="1021.6" x2="327.2" y2="1029.75" stroke="#000" stroke-width="1.3"/><polygon points="327.2,1035.7 323.8,1027.2 327.2,1028.48 330.6,1027.2" fill="#000"/>
<line x1="327.2" y1="1069.1" x2="327.2" y2="1076.05" stroke="#000" stroke-width="1.3"/><polygon points="327.2,1082 323.8,1073.5 327.2,1074.78 330.6,1073.5" fill="#000"/>
<line x1="327.2" y1="1086.7" x2="327.2" y2="1094.05" stroke="#000" stroke-width="1.3"/><polygon points="327.2,1100 323.8,1091.5 327.2,1092.78 330.6,1091.5" fill="#000"/>
<line x1="307.8" y1="1097.4" x2="307.8" y2="1089.95" stroke="#000" stroke-width="1.3"/><polygon points="307.8,1084 311.2,1092.5 307.8,1091.22 304.4,1092.5" fill="#000"/>
<line x1="327.2" y1="1134.6" x2="327.2" y2="1141.85" stroke="#000" stroke-width="1.3"/><polygon points="327.2,1147.8 323.8,1139.3 327.2,1140.58 330.6,1139.3" fill="#000"/>
</svg>
</body></html>
